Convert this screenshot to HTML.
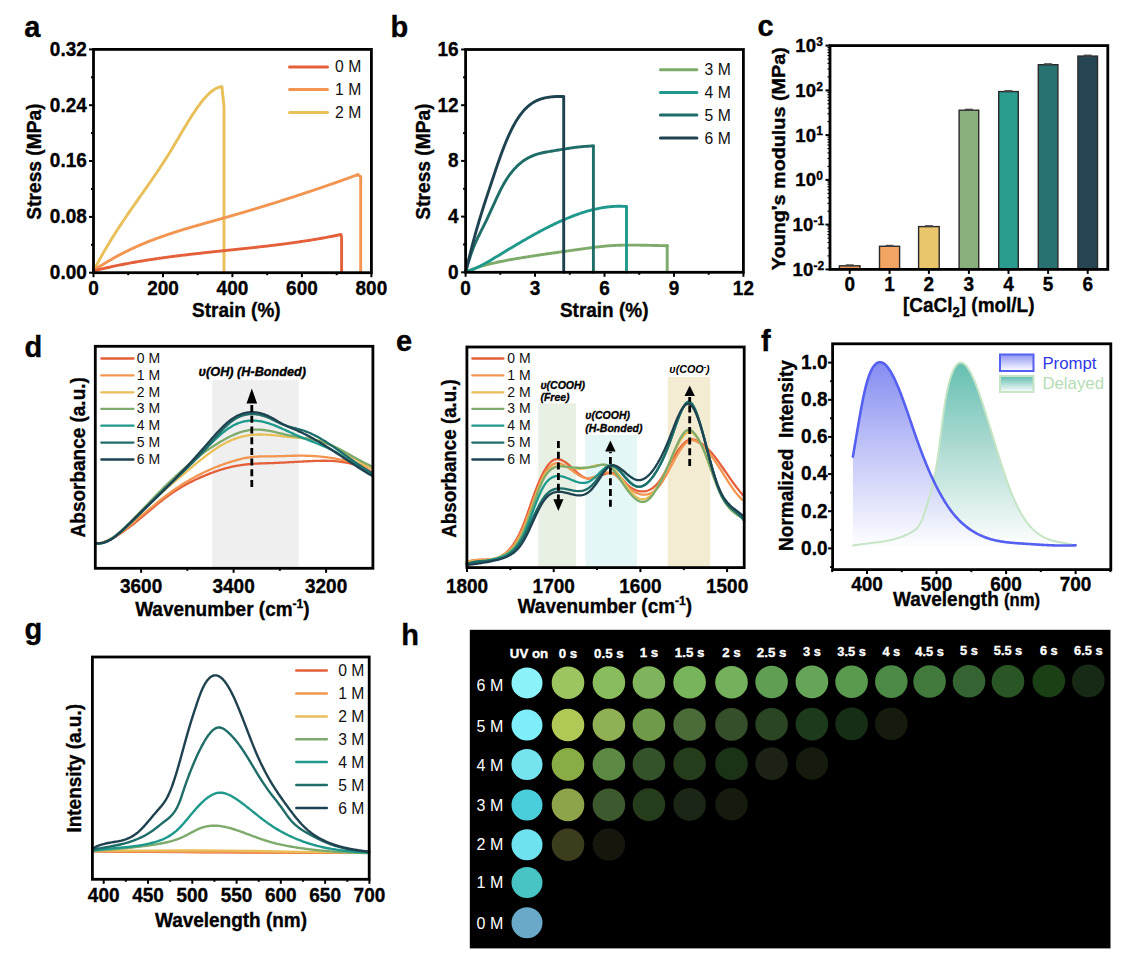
<!DOCTYPE html><html><head><meta charset="utf-8"><style>html,body{margin:0;padding:0;background:#fff;}svg{display:block;}text{font-family:"Liberation Sans",sans-serif;}</style></head><body>
<svg width="1136" height="959" viewBox="0 0 1136 959">
<rect width="1136" height="959" fill="#fff"/>
<defs>
<linearGradient id="gp" x1="0" y1="0" x2="0" y2="1"><stop offset="0" stop-color="#6f78ef"/><stop offset="0.45" stop-color="#b4b8f5"/><stop offset="1" stop-color="#ffffff"/></linearGradient>
<linearGradient id="gd" x1="0" y1="0" x2="0" y2="1"><stop offset="0" stop-color="#5dbcae"/><stop offset="0.45" stop-color="#a8d8cf"/><stop offset="1" stop-color="#ffffff"/></linearGradient>
<linearGradient id="gpl" x1="0" y1="0" x2="0" y2="1"><stop offset="0" stop-color="#8f95f3"/><stop offset="1" stop-color="#ffffff"/></linearGradient>
<linearGradient id="gdl" x1="0" y1="0" x2="0" y2="1"><stop offset="0" stop-color="#5dbcae"/><stop offset="1" stop-color="#ffffff"/></linearGradient>
</defs>
<text transform="translate(24.20,36.50) scale(1,1)" font-size="29" font-weight="bold" font-style="normal" text-anchor="start" fill="#000" stroke="#000" stroke-width="0.35" >a</text>
<line x1="93.5" y1="272.7" x2="93.5" y2="277.2" stroke="#000" stroke-width="2"/>
<line x1="163.0" y1="272.7" x2="163.0" y2="277.2" stroke="#000" stroke-width="2"/>
<line x1="232.4" y1="272.7" x2="232.4" y2="277.2" stroke="#000" stroke-width="2"/>
<line x1="301.9" y1="272.7" x2="301.9" y2="277.2" stroke="#000" stroke-width="2"/>
<line x1="371.4" y1="272.7" x2="371.4" y2="277.2" stroke="#000" stroke-width="2"/>
<line x1="128.2" y1="272.7" x2="128.2" y2="275.2" stroke="#000" stroke-width="2"/>
<line x1="197.7" y1="272.7" x2="197.7" y2="275.2" stroke="#000" stroke-width="2"/>
<line x1="267.2" y1="272.7" x2="267.2" y2="275.2" stroke="#000" stroke-width="2"/>
<line x1="336.7" y1="272.7" x2="336.7" y2="275.2" stroke="#000" stroke-width="2"/>
<line x1="93.5" y1="272.7" x2="89.0" y2="272.7" stroke="#000" stroke-width="2"/>
<line x1="93.5" y1="216.9" x2="89.0" y2="216.9" stroke="#000" stroke-width="2"/>
<line x1="93.5" y1="161.0" x2="89.0" y2="161.0" stroke="#000" stroke-width="2"/>
<line x1="93.5" y1="105.2" x2="89.0" y2="105.2" stroke="#000" stroke-width="2"/>
<line x1="93.5" y1="49.4" x2="89.0" y2="49.4" stroke="#000" stroke-width="2"/>
<line x1="93.5" y1="244.8" x2="91.0" y2="244.8" stroke="#000" stroke-width="2"/>
<line x1="93.5" y1="189.0" x2="91.0" y2="189.0" stroke="#000" stroke-width="2"/>
<line x1="93.5" y1="133.1" x2="91.0" y2="133.1" stroke="#000" stroke-width="2"/>
<line x1="93.5" y1="77.3" x2="91.0" y2="77.3" stroke="#000" stroke-width="2"/>
<text transform="translate(86.80,279.00) scale(0.935,1)" font-size="20.3" font-weight="bold" font-style="normal" text-anchor="end" fill="#000" stroke="#000" stroke-width="0.35" >0.00</text>
<text transform="translate(86.80,223.18) scale(0.935,1)" font-size="20.3" font-weight="bold" font-style="normal" text-anchor="end" fill="#000" stroke="#000" stroke-width="0.35" >0.08</text>
<text transform="translate(86.80,167.35) scale(0.935,1)" font-size="20.3" font-weight="bold" font-style="normal" text-anchor="end" fill="#000" stroke="#000" stroke-width="0.35" >0.16</text>
<text transform="translate(86.80,111.53) scale(0.935,1)" font-size="20.3" font-weight="bold" font-style="normal" text-anchor="end" fill="#000" stroke="#000" stroke-width="0.35" >0.24</text>
<text transform="translate(86.80,55.70) scale(0.935,1)" font-size="20.3" font-weight="bold" font-style="normal" text-anchor="end" fill="#000" stroke="#000" stroke-width="0.35" >0.32</text>
<text transform="translate(93.50,295.20) scale(0.935,1)" font-size="20.3" font-weight="bold" font-style="normal" text-anchor="middle" fill="#000" stroke="#000" stroke-width="0.35" >0</text>
<text transform="translate(162.97,295.20) scale(0.935,1)" font-size="20.3" font-weight="bold" font-style="normal" text-anchor="middle" fill="#000" stroke="#000" stroke-width="0.35" >200</text>
<text transform="translate(232.45,295.20) scale(0.935,1)" font-size="20.3" font-weight="bold" font-style="normal" text-anchor="middle" fill="#000" stroke="#000" stroke-width="0.35" >400</text>
<text transform="translate(301.93,295.20) scale(0.935,1)" font-size="20.3" font-weight="bold" font-style="normal" text-anchor="middle" fill="#000" stroke="#000" stroke-width="0.35" >600</text>
<text transform="translate(371.40,295.20) scale(0.935,1)" font-size="20.3" font-weight="bold" font-style="normal" text-anchor="middle" fill="#000" stroke="#000" stroke-width="0.35" >800</text>
<text transform="translate(236.30,317.40) scale(0.935,1)" font-size="20.3" font-weight="bold" font-style="normal" text-anchor="middle" fill="#000" stroke="#000" stroke-width="0.35" >Strain (%)</text>
<text transform="translate(41.2,161.6) rotate(-90) scale(0.945,1)" x="0" y="0" font-size="20.3" font-weight="bold" text-anchor="middle" fill="#000" stroke="#000" stroke-width="0.35" xml:space="preserve">Stress (MPa)</text>
<path d="M93.7,270.53 L94.9,268.23 L96.1,265.95 L97.3,263.71 L98.5,261.49 L99.7,259.30 L100.9,257.14 L102.1,255.01 L103.3,252.90 L104.5,250.82 L105.7,248.76 L106.9,246.73 L108.1,244.71 L109.3,242.72 L110.5,240.75 L111.7,238.80 L112.9,236.87 L114.1,234.96 L115.3,233.07 L116.5,231.19 L117.7,229.33 L118.9,227.49 L120.1,225.66 L121.3,223.84 L122.5,222.04 L123.7,220.24 L124.9,218.46 L126.1,216.69 L127.3,214.93 L128.5,213.18 L129.7,211.44 L130.9,209.70 L132.1,207.97 L133.3,206.25 L134.5,204.53 L135.7,202.82 L136.9,201.10 L138.1,199.39 L139.3,197.69 L140.5,195.98 L141.7,194.27 L142.9,192.57 L144.1,190.86 L145.3,189.15 L146.5,187.43 L147.7,185.71 L148.9,183.99 L150.1,182.26 L151.3,180.52 L152.5,178.78 L153.7,177.03 L154.9,175.27 L156.1,173.50 L157.3,171.72 L158.5,169.93 L159.7,168.12 L160.9,166.31 L162.1,164.48 L163.3,162.63 L164.5,160.77 L165.7,158.89 L166.9,157.00 L168.1,155.09 L169.3,153.16 L170.5,151.21 L171.7,149.24 L172.9,147.25 L174.1,145.25 L175.3,143.23 L176.5,141.21 L177.7,139.18 L178.9,137.14 L180.1,135.11 L181.3,133.07 L182.5,131.04 L183.7,129.02 L184.9,127.01 L186.1,125.02 L187.3,123.04 L188.5,121.08 L189.7,119.15 L190.9,117.24 L192.1,115.36 L193.3,113.51 L194.5,111.70 L195.7,109.92 L196.9,108.19 L198.1,106.49 L199.3,104.85 L200.5,103.26 L201.7,101.71 L202.9,100.23 L204.1,98.80 L205.3,97.44 L206.5,96.13 L207.7,94.90 L208.9,93.74 L210.1,92.65 L211.3,91.63 L212.5,90.70 L213.7,89.85 L214.9,89.09 L216.1,88.42 L217.3,87.85 L218.5,87.39 L219.7,87.04 L220.9,86.82 L222.0,86.72" fill="none" stroke="#e8bf58" stroke-width="2.9" stroke-linejoin="round" stroke-linecap="round"/>
<path d="M222.0,87.7 L224.0,106.5 L224.0,272.5" fill="none" stroke="#e8bf58" stroke-width="2.9" stroke-linejoin="round" stroke-linecap="round"/>
<path d="M93.7,270.48 L94.9,269.66 L96.1,268.86 L97.3,268.06 L98.5,267.27 L99.7,266.49 L100.9,265.72 L102.1,264.96 L103.3,264.21 L104.5,263.47 L105.7,262.74 L106.9,262.01 L108.1,261.29 L109.3,260.59 L110.5,259.89 L111.7,259.20 L112.9,258.52 L114.1,257.84 L115.3,257.18 L116.5,256.52 L117.7,255.87 L118.9,255.23 L120.1,254.60 L121.3,253.97 L122.5,253.35 L123.7,252.74 L124.9,252.14 L126.1,251.54 L127.3,250.95 L128.5,250.37 L129.7,249.79 L130.9,249.22 L132.1,248.66 L133.3,248.11 L134.5,247.56 L135.7,247.01 L136.9,246.48 L138.1,245.95 L139.3,245.42 L140.5,244.91 L141.7,244.40 L142.9,243.89 L144.1,243.39 L145.3,242.90 L146.5,242.41 L147.7,241.92 L148.9,241.45 L150.1,240.97 L151.3,240.51 L152.5,240.04 L153.7,239.59 L154.9,239.13 L156.1,238.68 L157.3,238.24 L158.5,237.80 L159.7,237.37 L160.9,236.94 L162.1,236.51 L163.3,236.09 L164.5,235.67 L165.7,235.26 L166.9,234.85 L168.1,234.45 L169.3,234.04 L170.5,233.64 L171.7,233.25 L172.9,232.86 L174.1,232.47 L175.3,232.08 L176.5,231.70 L177.7,231.32 L178.9,230.95 L180.1,230.57 L181.3,230.20 L182.5,229.83 L183.7,229.47 L184.9,229.11 L186.1,228.74 L187.3,228.39 L188.5,228.03 L189.7,227.67 L190.9,227.32 L192.1,226.97 L193.3,226.62 L194.5,226.27 L195.7,225.93 L196.9,225.58 L198.1,225.24 L199.3,224.89 L200.5,224.55 L201.7,224.21 L202.9,223.87 L204.1,223.53 L205.3,223.20 L206.5,222.86 L207.7,222.52 L208.9,222.18 L210.1,221.85 L211.3,221.51 L212.5,221.18 L213.7,220.84 L214.9,220.50 L216.1,220.17 L217.3,219.83 L218.5,219.49 L219.7,219.16 L220.9,218.82 L222.1,218.48 L223.3,218.14 L224.5,217.80 L225.7,217.46 L226.9,217.12 L228.1,216.77 L229.3,216.43 L230.5,216.09 L231.7,215.74 L232.9,215.39 L234.1,215.05 L235.3,214.70 L236.5,214.35 L237.7,214.00 L238.9,213.65 L240.1,213.30 L241.3,212.95 L242.5,212.60 L243.7,212.24 L244.9,211.89 L246.1,211.54 L247.3,211.18 L248.5,210.82 L249.7,210.47 L250.9,210.11 L252.1,209.75 L253.3,209.39 L254.5,209.03 L255.7,208.67 L256.9,208.30 L258.1,207.94 L259.3,207.58 L260.5,207.21 L261.7,206.85 L262.9,206.48 L264.1,206.11 L265.3,205.74 L266.5,205.37 L267.7,205.00 L268.9,204.63 L270.1,204.26 L271.3,203.89 L272.5,203.52 L273.7,203.14 L274.9,202.77 L276.1,202.39 L277.3,202.01 L278.5,201.64 L279.7,201.26 L280.9,200.88 L282.1,200.50 L283.3,200.12 L284.5,199.74 L285.7,199.35 L286.9,198.97 L288.1,198.58 L289.3,198.20 L290.5,197.81 L291.7,197.42 L292.9,197.04 L294.1,196.65 L295.3,196.26 L296.5,195.87 L297.7,195.47 L298.9,195.08 L300.1,194.69 L301.3,194.29 L302.5,193.90 L303.7,193.50 L304.9,193.10 L306.1,192.71 L307.3,192.31 L308.5,191.91 L309.7,191.51 L310.9,191.10 L312.1,190.70 L313.3,190.30 L314.5,189.89 L315.7,189.49 L316.9,189.08 L318.1,188.67 L319.3,188.27 L320.5,187.86 L321.7,187.45 L322.9,187.04 L324.1,186.62 L325.3,186.21 L326.5,185.80 L327.7,185.38 L328.9,184.97 L330.1,184.55 L331.3,184.13 L332.5,183.71 L333.7,183.29 L334.9,182.87 L336.1,182.45 L337.3,182.03 L338.5,181.61 L339.7,181.18 L340.9,180.76 L342.1,180.33 L343.3,179.90 L344.5,179.47 L345.7,179.05 L346.9,178.62 L348.1,178.18 L349.3,177.75 L350.5,177.32 L351.7,176.89 L352.9,176.45 L354.1,176.01 L355.3,175.58 L356.5,175.14 L357.7,174.70 L358.1,174.55" fill="none" stroke="#f29550" stroke-width="2.9" stroke-linejoin="round" stroke-linecap="round"/>
<path d="M358.1,175.2 L360.7,176.5 L360.7,272.5" fill="none" stroke="#f29550" stroke-width="2.9" stroke-linejoin="round" stroke-linecap="round"/>
<path d="M93.7,270.91 L94.9,270.61 L96.1,270.31 L97.3,270.01 L98.5,269.72 L99.7,269.43 L100.9,269.14 L102.1,268.86 L103.3,268.58 L104.5,268.30 L105.7,268.03 L106.9,267.75 L108.1,267.49 L109.3,267.22 L110.5,266.96 L111.7,266.70 L112.9,266.44 L114.1,266.18 L115.3,265.93 L116.5,265.68 L117.7,265.44 L118.9,265.19 L120.1,264.95 L121.3,264.71 L122.5,264.47 L123.7,264.24 L124.9,264.01 L126.1,263.78 L127.3,263.55 L128.5,263.33 L129.7,263.11 L130.9,262.89 L132.1,262.67 L133.3,262.46 L134.5,262.24 L135.7,262.03 L136.9,261.83 L138.1,261.62 L139.3,261.42 L140.5,261.21 L141.7,261.01 L142.9,260.82 L144.1,260.62 L145.3,260.43 L146.5,260.24 L147.7,260.05 L148.9,259.86 L150.1,259.67 L151.3,259.49 L152.5,259.31 L153.7,259.13 L154.9,258.95 L156.1,258.77 L157.3,258.60 L158.5,258.42 L159.7,258.25 L160.9,258.08 L162.1,257.91 L163.3,257.74 L164.5,257.58 L165.7,257.41 L166.9,257.25 L168.1,257.09 L169.3,256.93 L170.5,256.77 L171.7,256.62 L172.9,256.46 L174.1,256.31 L175.3,256.15 L176.5,256.00 L177.7,255.85 L178.9,255.70 L180.1,255.55 L181.3,255.41 L182.5,255.26 L183.7,255.12 L184.9,254.97 L186.1,254.83 L187.3,254.69 L188.5,254.55 L189.7,254.41 L190.9,254.27 L192.1,254.13 L193.3,253.99 L194.5,253.86 L195.7,253.72 L196.9,253.59 L198.1,253.45 L199.3,253.32 L200.5,253.19 L201.7,253.06 L202.9,252.92 L204.1,252.79 L205.3,252.66 L206.5,252.53 L207.7,252.40 L208.9,252.28 L210.1,252.15 L211.3,252.02 L212.5,251.89 L213.7,251.77 L214.9,251.64 L216.1,251.51 L217.3,251.39 L218.5,251.26 L219.7,251.14 L220.9,251.01 L222.1,250.88 L223.3,250.76 L224.5,250.63 L225.7,250.51 L226.9,250.38 L228.1,250.26 L229.3,250.13 L230.5,250.01 L231.7,249.89 L232.9,249.76 L234.1,249.63 L235.3,249.51 L236.5,249.38 L237.7,249.26 L238.9,249.13 L240.1,249.01 L241.3,248.88 L242.5,248.75 L243.7,248.63 L244.9,248.50 L246.1,248.37 L247.3,248.24 L248.5,248.11 L249.7,247.98 L250.9,247.85 L252.1,247.72 L253.3,247.59 L254.5,247.46 L255.7,247.33 L256.9,247.20 L258.1,247.06 L259.3,246.93 L260.5,246.79 L261.7,246.66 L262.9,246.52 L264.1,246.38 L265.3,246.24 L266.5,246.11 L267.7,245.97 L268.9,245.82 L270.1,245.68 L271.3,245.54 L272.5,245.39 L273.7,245.25 L274.9,245.10 L276.1,244.96 L277.3,244.81 L278.5,244.66 L279.7,244.51 L280.9,244.35 L282.1,244.20 L283.3,244.05 L284.5,243.89 L285.7,243.73 L286.9,243.57 L288.1,243.41 L289.3,243.25 L290.5,243.09 L291.7,242.92 L292.9,242.76 L294.1,242.59 L295.3,242.42 L296.5,242.25 L297.7,242.08 L298.9,241.90 L300.1,241.73 L301.3,241.55 L302.5,241.37 L303.7,241.19 L304.9,241.01 L306.1,240.82 L307.3,240.64 L308.5,240.45 L309.7,240.26 L310.9,240.06 L312.1,239.87 L313.3,239.67 L314.5,239.48 L315.7,239.28 L316.9,239.07 L318.1,238.87 L319.3,238.66 L320.5,238.45 L321.7,238.24 L322.9,238.03 L324.1,237.81 L325.3,237.59 L326.5,237.37 L327.7,237.15 L328.9,236.93 L330.1,236.70 L331.3,236.47 L332.5,236.24 L333.7,236.00 L334.9,235.76 L336.1,235.52 L337.3,235.28 L338.5,235.04 L339.7,234.79 L340.9,234.54" fill="none" stroke="#e3603a" stroke-width="2.9" stroke-linejoin="round" stroke-linecap="round"/>
<path d="M340.9,235.3 L341.6,236.6 L341.6,272.5" fill="none" stroke="#e3603a" stroke-width="2.9" stroke-linejoin="round" stroke-linecap="round"/>
<line x1="289.5" y1="66.9" x2="327.5" y2="66.9" stroke="#e3603a" stroke-width="3" stroke-linecap="round"/>
<text transform="translate(335.10,72.40) scale(1.0,1)" font-size="15.7" font-weight="normal" font-style="normal" text-anchor="start" fill="#111" >0 M</text>
<line x1="289.5" y1="89.6" x2="327.5" y2="89.6" stroke="#f29550" stroke-width="3" stroke-linecap="round"/>
<text transform="translate(335.10,95.10) scale(1.0,1)" font-size="15.7" font-weight="normal" font-style="normal" text-anchor="start" fill="#111" >1 M</text>
<line x1="289.5" y1="112.6" x2="327.5" y2="112.6" stroke="#e8bf58" stroke-width="3" stroke-linecap="round"/>
<text transform="translate(335.10,118.10) scale(1.0,1)" font-size="15.7" font-weight="normal" font-style="normal" text-anchor="start" fill="#111" >2 M</text>
<rect x="93.5" y="49.4" width="277.9" height="223.29999999999998" fill="none" stroke="#000" stroke-width="2.8"/>
<text transform="translate(390.50,36.80) scale(1,1)" font-size="29" font-weight="bold" font-style="normal" text-anchor="start" fill="#000" stroke="#000" stroke-width="0.35" >b</text>
<line x1="465.6" y1="272.3" x2="465.6" y2="276.8" stroke="#000" stroke-width="2"/>
<line x1="535.0" y1="272.3" x2="535.0" y2="276.8" stroke="#000" stroke-width="2"/>
<line x1="604.5" y1="272.3" x2="604.5" y2="276.8" stroke="#000" stroke-width="2"/>
<line x1="674.0" y1="272.3" x2="674.0" y2="276.8" stroke="#000" stroke-width="2"/>
<line x1="743.4" y1="272.3" x2="743.4" y2="276.8" stroke="#000" stroke-width="2"/>
<line x1="500.3" y1="272.3" x2="500.3" y2="274.8" stroke="#000" stroke-width="2"/>
<line x1="569.8" y1="272.3" x2="569.8" y2="274.8" stroke="#000" stroke-width="2"/>
<line x1="639.2" y1="272.3" x2="639.2" y2="274.8" stroke="#000" stroke-width="2"/>
<line x1="708.7" y1="272.3" x2="708.7" y2="274.8" stroke="#000" stroke-width="2"/>
<line x1="465.6" y1="272.3" x2="461.1" y2="272.3" stroke="#000" stroke-width="2"/>
<line x1="465.6" y1="216.6" x2="461.1" y2="216.6" stroke="#000" stroke-width="2"/>
<line x1="465.6" y1="160.9" x2="461.1" y2="160.9" stroke="#000" stroke-width="2"/>
<line x1="465.6" y1="105.2" x2="461.1" y2="105.2" stroke="#000" stroke-width="2"/>
<line x1="465.6" y1="49.5" x2="461.1" y2="49.5" stroke="#000" stroke-width="2"/>
<line x1="465.6" y1="244.5" x2="463.1" y2="244.5" stroke="#000" stroke-width="2"/>
<line x1="465.6" y1="188.8" x2="463.1" y2="188.8" stroke="#000" stroke-width="2"/>
<line x1="465.6" y1="133.1" x2="463.1" y2="133.1" stroke="#000" stroke-width="2"/>
<line x1="465.6" y1="77.3" x2="463.1" y2="77.3" stroke="#000" stroke-width="2"/>
<text transform="translate(458.50,278.60) scale(0.935,1)" font-size="20.3" font-weight="bold" font-style="normal" text-anchor="end" fill="#000" stroke="#000" stroke-width="0.35" >0</text>
<text transform="translate(458.50,222.90) scale(0.935,1)" font-size="20.3" font-weight="bold" font-style="normal" text-anchor="end" fill="#000" stroke="#000" stroke-width="0.35" >4</text>
<text transform="translate(458.50,167.20) scale(0.935,1)" font-size="20.3" font-weight="bold" font-style="normal" text-anchor="end" fill="#000" stroke="#000" stroke-width="0.35" >8</text>
<text transform="translate(458.50,111.50) scale(0.935,1)" font-size="20.3" font-weight="bold" font-style="normal" text-anchor="end" fill="#000" stroke="#000" stroke-width="0.35" >12</text>
<text transform="translate(458.50,55.80) scale(0.935,1)" font-size="20.3" font-weight="bold" font-style="normal" text-anchor="end" fill="#000" stroke="#000" stroke-width="0.35" >16</text>
<text transform="translate(465.60,295.20) scale(0.935,1)" font-size="20.3" font-weight="bold" font-style="normal" text-anchor="middle" fill="#000" stroke="#000" stroke-width="0.35" >0</text>
<text transform="translate(535.05,295.20) scale(0.935,1)" font-size="20.3" font-weight="bold" font-style="normal" text-anchor="middle" fill="#000" stroke="#000" stroke-width="0.35" >3</text>
<text transform="translate(604.50,295.20) scale(0.935,1)" font-size="20.3" font-weight="bold" font-style="normal" text-anchor="middle" fill="#000" stroke="#000" stroke-width="0.35" >6</text>
<text transform="translate(673.95,295.20) scale(0.935,1)" font-size="20.3" font-weight="bold" font-style="normal" text-anchor="middle" fill="#000" stroke="#000" stroke-width="0.35" >9</text>
<text transform="translate(743.40,295.20) scale(0.935,1)" font-size="20.3" font-weight="bold" font-style="normal" text-anchor="middle" fill="#000" stroke="#000" stroke-width="0.35" >12</text>
<text transform="translate(604.20,317.40) scale(0.935,1)" font-size="20.3" font-weight="bold" font-style="normal" text-anchor="middle" fill="#000" stroke="#000" stroke-width="0.35" >Strain (%)</text>
<text transform="translate(430.0,161.6) rotate(-90) scale(0.945,1)" x="0" y="0" font-size="20.3" font-weight="bold" text-anchor="middle" fill="#000" stroke="#000" stroke-width="0.35" xml:space="preserve">Stress (MPa)</text>
<path d="M465.9,271.79 L467.1,271.28 L468.3,270.79 L469.5,270.32 L470.7,269.85 L471.9,269.40 L473.1,268.96 L474.3,268.53 L475.5,268.12 L476.7,267.71 L477.9,267.32 L479.1,266.94 L480.3,266.57 L481.5,266.21 L482.7,265.85 L483.9,265.51 L485.1,265.18 L486.3,264.85 L487.5,264.54 L488.7,264.23 L489.9,263.93 L491.1,263.64 L492.3,263.36 L493.5,263.08 L494.7,262.81 L495.9,262.54 L497.1,262.28 L498.3,262.03 L499.5,261.78 L500.7,261.53 L501.9,261.30 L503.1,261.06 L504.3,260.83 L505.5,260.60 L506.7,260.38 L507.9,260.16 L509.1,259.94 L510.3,259.72 L511.5,259.51 L512.7,259.30 L513.9,259.09 L515.1,258.88 L516.3,258.67 L517.5,258.47 L518.7,258.26 L519.9,258.06 L521.1,257.86 L522.3,257.66 L523.5,257.47 L524.7,257.27 L525.9,257.08 L527.1,256.89 L528.3,256.70 L529.5,256.51 L530.7,256.32 L531.9,256.13 L533.1,255.95 L534.3,255.76 L535.5,255.58 L536.7,255.40 L537.9,255.22 L539.1,255.04 L540.3,254.86 L541.5,254.68 L542.7,254.51 L543.9,254.33 L545.1,254.15 L546.3,253.98 L547.5,253.81 L548.7,253.63 L549.9,253.46 L551.1,253.29 L552.3,253.12 L553.5,252.95 L554.7,252.78 L555.9,252.61 L557.1,252.44 L558.3,252.27 L559.5,252.10 L560.7,251.93 L561.9,251.76 L563.1,251.60 L564.3,251.43 L565.5,251.26 L566.7,251.09 L567.9,250.93 L569.1,250.76 L570.3,250.59 L571.5,250.42 L572.7,250.26 L573.9,250.09 L575.1,249.92 L576.3,249.75 L577.5,249.58 L578.7,249.42 L579.9,249.25 L581.1,249.08 L582.3,248.92 L583.5,248.75 L584.7,248.59 L585.9,248.42 L587.1,248.26 L588.3,248.10 L589.5,247.94 L590.7,247.78 L591.9,247.62 L593.1,247.47 L594.3,247.31 L595.5,247.16 L596.7,247.02 L597.9,246.87 L599.1,246.73 L600.3,246.60 L601.5,246.47 L602.7,246.34 L603.9,246.23 L605.1,246.11 L606.3,246.01 L607.5,245.91 L608.7,245.82 L609.9,245.73 L611.1,245.65 L612.3,245.58 L613.5,245.51 L614.7,245.45 L615.9,245.40 L617.1,245.35 L618.3,245.30 L619.5,245.26 L620.7,245.22 L621.9,245.19 L623.1,245.17 L624.3,245.15 L625.5,245.13 L626.7,245.11 L627.9,245.10 L629.1,245.10 L630.3,245.09 L631.5,245.09 L632.7,245.10 L633.9,245.10 L635.1,245.11 L636.3,245.12 L637.5,245.14 L638.7,245.15 L639.9,245.17 L641.1,245.19 L642.3,245.21 L643.5,245.23 L644.7,245.26 L645.9,245.28 L647.1,245.31 L648.3,245.34 L649.5,245.36 L650.7,245.39 L651.9,245.42 L653.1,245.45 L654.3,245.47 L655.5,245.50 L656.7,245.53 L657.9,245.55 L659.1,245.58 L660.3,245.60 L661.5,245.63 L662.7,245.65 L663.9,245.67 L665.1,245.69 L666.3,245.70 L667.2,245.71" fill="none" stroke="#7eaa6c" stroke-width="2.9" stroke-linejoin="round" stroke-linecap="round"/>
<path d="M667.2,245.7 L667.2,272.3" fill="none" stroke="#7eaa6c" stroke-width="2.9" stroke-linejoin="round" stroke-linecap="round"/>
<path d="M465.9,271.78 L467.1,271.43 L468.3,271.06 L469.5,270.65 L470.7,270.23 L471.9,269.77 L473.1,269.29 L474.3,268.79 L475.5,268.27 L476.7,267.72 L477.9,267.16 L479.1,266.58 L480.3,265.98 L481.5,265.36 L482.7,264.73 L483.9,264.08 L485.1,263.43 L486.3,262.76 L487.5,262.08 L488.7,261.39 L489.9,260.69 L491.1,259.99 L492.3,259.27 L493.5,258.56 L494.7,257.84 L495.9,257.11 L497.1,256.38 L498.3,255.65 L499.5,254.92 L500.7,254.19 L501.9,253.46 L503.1,252.73 L504.3,252.00 L505.5,251.27 L506.7,250.55 L507.9,249.82 L509.1,249.10 L510.3,248.38 L511.5,247.66 L512.7,246.94 L513.9,246.22 L515.1,245.51 L516.3,244.80 L517.5,244.09 L518.7,243.38 L519.9,242.68 L521.1,241.98 L522.3,241.28 L523.5,240.58 L524.7,239.89 L525.9,239.20 L527.1,238.51 L528.3,237.83 L529.5,237.15 L530.7,236.48 L531.9,235.80 L533.1,235.14 L534.3,234.47 L535.5,233.81 L536.7,233.16 L537.9,232.51 L539.1,231.86 L540.3,231.22 L541.5,230.58 L542.7,229.95 L543.9,229.32 L545.1,228.70 L546.3,228.08 L547.5,227.47 L548.7,226.87 L549.9,226.27 L551.1,225.67 L552.3,225.09 L553.5,224.50 L554.7,223.93 L555.9,223.36 L557.1,222.79 L558.3,222.24 L559.5,221.69 L560.7,221.14 L561.9,220.61 L563.1,220.08 L564.3,219.55 L565.5,219.04 L566.7,218.53 L567.9,218.03 L569.1,217.54 L570.3,217.06 L571.5,216.58 L572.7,216.11 L573.9,215.66 L575.1,215.21 L576.3,214.77 L577.5,214.33 L578.7,213.91 L579.9,213.50 L581.1,213.10 L582.3,212.70 L583.5,212.32 L584.7,211.95 L585.9,211.58 L587.1,211.23 L588.3,210.89 L589.5,210.56 L590.7,210.24 L591.9,209.93 L593.1,209.63 L594.3,209.34 L595.5,209.07 L596.7,208.80 L597.9,208.55 L599.1,208.31 L600.3,208.09 L601.5,207.87 L602.7,207.67 L603.9,207.48 L605.1,207.31 L606.3,207.14 L607.5,206.99 L608.7,206.86 L609.9,206.73 L611.1,206.62 L612.3,206.53 L613.5,206.45 L614.7,206.38 L615.9,206.33 L617.1,206.29 L618.3,206.27 L619.5,206.26 L620.7,206.27 L621.9,206.29 L623.1,206.33 L624.3,206.38 L625.5,206.45 L626.5,206.52" fill="none" stroke="#1f998b" stroke-width="2.9" stroke-linejoin="round" stroke-linecap="round"/>
<path d="M626.5,206.6 L626.5,272.3" fill="none" stroke="#1f998b" stroke-width="2.9" stroke-linejoin="round" stroke-linecap="round"/>
<path d="M465.9,271.20 L467.1,266.73 L468.3,262.57 L469.5,258.70 L470.7,255.08 L471.9,251.71 L473.1,248.54 L474.3,245.56 L475.5,242.74 L476.7,240.06 L477.9,237.48 L479.1,235.00 L480.3,232.58 L481.5,230.19 L482.7,227.82 L483.9,225.44 L485.1,223.02 L486.3,220.54 L487.5,218.01 L488.7,215.43 L489.9,212.82 L491.1,210.20 L492.3,207.56 L493.5,204.92 L494.7,202.29 L495.9,199.69 L497.1,197.12 L498.3,194.59 L499.5,192.12 L500.7,189.71 L501.9,187.38 L503.1,185.14 L504.3,183.00 L505.5,180.96 L506.7,179.03 L507.9,177.21 L509.1,175.48 L510.3,173.85 L511.5,172.30 L512.7,170.84 L513.9,169.45 L515.1,168.14 L516.3,166.90 L517.5,165.72 L518.7,164.61 L519.9,163.57 L521.1,162.59 L522.3,161.66 L523.5,160.80 L524.7,159.98 L525.9,159.22 L527.1,158.51 L528.3,157.85 L529.5,157.23 L530.7,156.66 L531.9,156.12 L533.1,155.62 L534.3,155.16 L535.5,154.74 L536.7,154.34 L537.9,153.98 L539.1,153.64 L540.3,153.32 L541.5,153.03 L542.7,152.76 L543.9,152.50 L545.1,152.26 L546.3,152.03 L547.5,151.82 L548.7,151.61 L549.9,151.41 L551.1,151.21 L552.3,151.01 L553.5,150.82 L554.7,150.62 L555.9,150.42 L557.1,150.22 L558.3,150.02 L559.5,149.82 L560.7,149.62 L561.9,149.42 L563.1,149.22 L564.3,149.03 L565.5,148.84 L566.7,148.65 L567.9,148.46 L569.1,148.28 L570.3,148.10 L571.5,147.92 L572.7,147.75 L573.9,147.59 L575.1,147.43 L576.3,147.28 L577.5,147.13 L578.7,146.99 L579.9,146.86 L581.1,146.74 L582.3,146.62 L583.5,146.51 L584.7,146.41 L585.9,146.33 L587.1,146.25 L588.3,146.18 L589.5,146.12 L590.7,146.07 L591.9,146.03 L593.1,146.01 L593.4,146.00" fill="none" stroke="#1f6d68" stroke-width="2.9" stroke-linejoin="round" stroke-linecap="round"/>
<path d="M593.4,146.0 L593.4,272.3" fill="none" stroke="#1f6d68" stroke-width="2.9" stroke-linejoin="round" stroke-linecap="round"/>
<path d="M465.9,271.42 L467.1,266.24 L468.3,261.19 L469.5,256.27 L470.7,251.48 L471.9,246.80 L473.1,242.24 L474.3,237.79 L475.5,233.45 L476.7,229.20 L477.9,225.05 L479.1,220.99 L480.3,217.01 L481.5,213.11 L482.7,209.29 L483.9,205.53 L485.1,201.82 L486.3,198.15 L487.5,194.51 L488.7,190.90 L489.9,187.29 L491.1,183.69 L492.3,180.08 L493.5,176.48 L494.7,172.89 L495.9,169.33 L497.1,165.81 L498.3,162.33 L499.5,158.92 L500.7,155.57 L501.9,152.31 L503.1,149.13 L504.3,146.03 L505.5,143.04 L506.7,140.14 L507.9,137.34 L509.1,134.65 L510.3,132.07 L511.5,129.60 L512.7,127.25 L513.9,125.01 L515.1,122.87 L516.3,120.85 L517.5,118.93 L518.7,117.12 L519.9,115.41 L521.1,113.81 L522.3,112.30 L523.5,110.89 L524.7,109.56 L525.9,108.33 L527.1,107.19 L528.3,106.12 L529.5,105.13 L530.7,104.22 L531.9,103.38 L533.1,102.61 L534.3,101.90 L535.5,101.26 L536.7,100.67 L537.9,100.14 L539.1,99.65 L540.3,99.22 L541.5,98.83 L542.7,98.48 L543.9,98.17 L545.1,97.90 L546.3,97.66 L547.5,97.44 L548.7,97.25 L549.9,97.08 L551.1,96.93 L552.3,96.80 L553.5,96.69 L554.7,96.60 L555.9,96.53 L557.1,96.49 L558.3,96.46 L559.5,96.46 L560.7,96.47 L561.9,96.51 L563.1,96.57 L563.7,96.60" fill="none" stroke="#1f4250" stroke-width="2.9" stroke-linejoin="round" stroke-linecap="round"/>
<path d="M563.7,96.6 L563.7,272.3" fill="none" stroke="#1f4250" stroke-width="2.9" stroke-linejoin="round" stroke-linecap="round"/>
<line x1="660.4" y1="69.8" x2="696.9" y2="69.8" stroke="#7eaa6c" stroke-width="3" stroke-linecap="round"/>
<text transform="translate(704.60,75.30) scale(1.0,1)" font-size="15.7" font-weight="normal" font-style="normal" text-anchor="start" fill="#111" >3 M</text>
<line x1="660.4" y1="92.5" x2="696.9" y2="92.5" stroke="#1f998b" stroke-width="3" stroke-linecap="round"/>
<text transform="translate(704.60,98.00) scale(1.0,1)" font-size="15.7" font-weight="normal" font-style="normal" text-anchor="start" fill="#111" >4 M</text>
<line x1="660.4" y1="115.0" x2="696.9" y2="115.0" stroke="#1f6d68" stroke-width="3" stroke-linecap="round"/>
<text transform="translate(704.60,120.50) scale(1.0,1)" font-size="15.7" font-weight="normal" font-style="normal" text-anchor="start" fill="#111" >5 M</text>
<line x1="660.4" y1="138.1" x2="696.9" y2="138.1" stroke="#1f4250" stroke-width="3" stroke-linecap="round"/>
<text transform="translate(704.60,143.60) scale(1.0,1)" font-size="15.7" font-weight="normal" font-style="normal" text-anchor="start" fill="#111" >6 M</text>
<rect x="465.6" y="49.5" width="277.79999999999995" height="222.8" fill="none" stroke="#000" stroke-width="2.8"/>
<text transform="translate(757.50,36.30) scale(1,1)" font-size="29" font-weight="bold" font-style="normal" text-anchor="start" fill="#000" stroke="#000" stroke-width="0.35" >c</text>
<rect x="839.4" y="265.8" width="20.600000000000023" height="3.599999999999966" fill="#ec9a5c" stroke="#2a2a2a" stroke-width="1.4"/>
<line x1="845.7" y1="265.3" x2="853.7" y2="265.3" stroke="#444" stroke-width="2"/>
<line x1="849.7" y1="269.4" x2="849.7" y2="273.9" stroke="#000" stroke-width="2"/>
<text transform="translate(849.70,291.20) scale(0.935,1)" font-size="20.3" font-weight="bold" font-style="normal" text-anchor="middle" fill="#000" stroke="#000" stroke-width="0.35" >0</text>
<rect x="879.5" y="246.3" width="20.100000000000023" height="23.099999999999966" fill="#f2a462" stroke="#2a2a2a" stroke-width="1.4"/>
<line x1="885.55" y1="245.8" x2="893.55" y2="245.8" stroke="#444" stroke-width="2"/>
<line x1="889.55" y1="269.4" x2="889.55" y2="273.9" stroke="#000" stroke-width="2"/>
<text transform="translate(889.55,291.20) scale(0.935,1)" font-size="20.3" font-weight="bold" font-style="normal" text-anchor="middle" fill="#000" stroke="#000" stroke-width="0.35" >1</text>
<rect x="918.6" y="226.6" width="20.600000000000023" height="42.79999999999998" fill="#e9c56c" stroke="#2a2a2a" stroke-width="1.4"/>
<line x1="924.9000000000001" y1="226.1" x2="932.9000000000001" y2="226.1" stroke="#444" stroke-width="2"/>
<line x1="928.9000000000001" y1="269.4" x2="928.9000000000001" y2="273.9" stroke="#000" stroke-width="2"/>
<text transform="translate(928.90,291.20) scale(0.935,1)" font-size="20.3" font-weight="bold" font-style="normal" text-anchor="middle" fill="#000" stroke="#000" stroke-width="0.35" >2</text>
<rect x="959.1" y="110.2" width="19.600000000000023" height="159.2" fill="#8ab17d" stroke="#2a2a2a" stroke-width="1.4"/>
<line x1="964.9000000000001" y1="109.7" x2="972.9000000000001" y2="109.7" stroke="#444" stroke-width="2"/>
<line x1="968.9000000000001" y1="269.4" x2="968.9000000000001" y2="273.9" stroke="#000" stroke-width="2"/>
<text transform="translate(968.90,291.20) scale(0.935,1)" font-size="20.3" font-weight="bold" font-style="normal" text-anchor="middle" fill="#000" stroke="#000" stroke-width="0.35" >3</text>
<rect x="998.7" y="91.6" width="19.59999999999991" height="177.79999999999998" fill="#2a9d8f" stroke="#2a2a2a" stroke-width="1.4"/>
<line x1="1004.5" y1="91.1" x2="1012.5" y2="91.1" stroke="#444" stroke-width="2"/>
<line x1="1008.5" y1="269.4" x2="1008.5" y2="273.9" stroke="#000" stroke-width="2"/>
<text transform="translate(1008.50,291.20) scale(0.935,1)" font-size="20.3" font-weight="bold" font-style="normal" text-anchor="middle" fill="#000" stroke="#000" stroke-width="0.35" >4</text>
<rect x="1038.3" y="64.7" width="19.600000000000136" height="204.7" fill="#287271" stroke="#2a2a2a" stroke-width="1.4"/>
<line x1="1044.1" y1="64.2" x2="1052.1" y2="64.2" stroke="#444" stroke-width="2"/>
<line x1="1048.1" y1="269.4" x2="1048.1" y2="273.9" stroke="#000" stroke-width="2"/>
<text transform="translate(1048.10,291.20) scale(0.935,1)" font-size="20.3" font-weight="bold" font-style="normal" text-anchor="middle" fill="#000" stroke="#000" stroke-width="0.35" >5</text>
<rect x="1077.9" y="56.1" width="19.59999999999991" height="213.29999999999998" fill="#264653" stroke="#2a2a2a" stroke-width="1.4"/>
<line x1="1083.7" y1="55.6" x2="1091.7" y2="55.6" stroke="#444" stroke-width="2"/>
<line x1="1087.7" y1="269.4" x2="1087.7" y2="273.9" stroke="#000" stroke-width="2"/>
<text transform="translate(1087.70,291.20) scale(0.935,1)" font-size="20.3" font-weight="bold" font-style="normal" text-anchor="middle" fill="#000" stroke="#000" stroke-width="0.35" >6</text>
<line x1="830" y1="269.4" x2="825.5" y2="269.4" stroke="#000" stroke-width="2"/>
<line x1="830" y1="224.6" x2="825.5" y2="224.6" stroke="#000" stroke-width="2"/>
<line x1="830" y1="179.9" x2="825.5" y2="179.9" stroke="#000" stroke-width="2"/>
<line x1="830" y1="135.1" x2="825.5" y2="135.1" stroke="#000" stroke-width="2"/>
<line x1="830" y1="90.4" x2="825.5" y2="90.4" stroke="#000" stroke-width="2"/>
<line x1="830" y1="45.6" x2="825.5" y2="45.6" stroke="#000" stroke-width="2"/>
<line x1="830" y1="255.9" x2="827.5" y2="255.9" stroke="#000" stroke-width="1.2"/>
<line x1="830" y1="248.0" x2="827.5" y2="248.0" stroke="#000" stroke-width="1.2"/>
<line x1="830" y1="242.5" x2="827.5" y2="242.5" stroke="#000" stroke-width="1.2"/>
<line x1="830" y1="238.1" x2="827.5" y2="238.1" stroke="#000" stroke-width="1.2"/>
<line x1="830" y1="234.6" x2="827.5" y2="234.6" stroke="#000" stroke-width="1.2"/>
<line x1="830" y1="231.6" x2="827.5" y2="231.6" stroke="#000" stroke-width="1.2"/>
<line x1="830" y1="229.0" x2="827.5" y2="229.0" stroke="#000" stroke-width="1.2"/>
<line x1="830" y1="226.7" x2="827.5" y2="226.7" stroke="#000" stroke-width="1.2"/>
<line x1="830" y1="211.2" x2="827.5" y2="211.2" stroke="#000" stroke-width="1.2"/>
<line x1="830" y1="203.3" x2="827.5" y2="203.3" stroke="#000" stroke-width="1.2"/>
<line x1="830" y1="197.7" x2="827.5" y2="197.7" stroke="#000" stroke-width="1.2"/>
<line x1="830" y1="193.4" x2="827.5" y2="193.4" stroke="#000" stroke-width="1.2"/>
<line x1="830" y1="189.8" x2="827.5" y2="189.8" stroke="#000" stroke-width="1.2"/>
<line x1="830" y1="186.8" x2="827.5" y2="186.8" stroke="#000" stroke-width="1.2"/>
<line x1="830" y1="184.2" x2="827.5" y2="184.2" stroke="#000" stroke-width="1.2"/>
<line x1="830" y1="181.9" x2="827.5" y2="181.9" stroke="#000" stroke-width="1.2"/>
<line x1="830" y1="166.4" x2="827.5" y2="166.4" stroke="#000" stroke-width="1.2"/>
<line x1="830" y1="158.5" x2="827.5" y2="158.5" stroke="#000" stroke-width="1.2"/>
<line x1="830" y1="152.9" x2="827.5" y2="152.9" stroke="#000" stroke-width="1.2"/>
<line x1="830" y1="148.6" x2="827.5" y2="148.6" stroke="#000" stroke-width="1.2"/>
<line x1="830" y1="145.0" x2="827.5" y2="145.0" stroke="#000" stroke-width="1.2"/>
<line x1="830" y1="142.1" x2="827.5" y2="142.1" stroke="#000" stroke-width="1.2"/>
<line x1="830" y1="139.5" x2="827.5" y2="139.5" stroke="#000" stroke-width="1.2"/>
<line x1="830" y1="137.2" x2="827.5" y2="137.2" stroke="#000" stroke-width="1.2"/>
<line x1="830" y1="121.6" x2="827.5" y2="121.6" stroke="#000" stroke-width="1.2"/>
<line x1="830" y1="113.8" x2="827.5" y2="113.8" stroke="#000" stroke-width="1.2"/>
<line x1="830" y1="108.2" x2="827.5" y2="108.2" stroke="#000" stroke-width="1.2"/>
<line x1="830" y1="103.8" x2="827.5" y2="103.8" stroke="#000" stroke-width="1.2"/>
<line x1="830" y1="100.3" x2="827.5" y2="100.3" stroke="#000" stroke-width="1.2"/>
<line x1="830" y1="97.3" x2="827.5" y2="97.3" stroke="#000" stroke-width="1.2"/>
<line x1="830" y1="94.7" x2="827.5" y2="94.7" stroke="#000" stroke-width="1.2"/>
<line x1="830" y1="92.4" x2="827.5" y2="92.4" stroke="#000" stroke-width="1.2"/>
<line x1="830" y1="76.9" x2="827.5" y2="76.9" stroke="#000" stroke-width="1.2"/>
<line x1="830" y1="69.0" x2="827.5" y2="69.0" stroke="#000" stroke-width="1.2"/>
<line x1="830" y1="63.4" x2="827.5" y2="63.4" stroke="#000" stroke-width="1.2"/>
<line x1="830" y1="59.1" x2="827.5" y2="59.1" stroke="#000" stroke-width="1.2"/>
<line x1="830" y1="55.5" x2="827.5" y2="55.5" stroke="#000" stroke-width="1.2"/>
<line x1="830" y1="52.5" x2="827.5" y2="52.5" stroke="#000" stroke-width="1.2"/>
<line x1="830" y1="49.9" x2="827.5" y2="49.9" stroke="#000" stroke-width="1.2"/>
<line x1="830" y1="47.6" x2="827.5" y2="47.6" stroke="#000" stroke-width="1.2"/>
<text transform="translate(813.20,275.90) scale(1.03,1)" font-size="18" font-weight="bold" font-style="normal" text-anchor="end" fill="#000" stroke="#000" stroke-width="0.35" >10</text>
<text transform="translate(813.50,269.70) scale(1.0,1)" font-size="12" font-weight="bold" font-style="normal" text-anchor="start" fill="#000" stroke="#000" stroke-width="0.35" >-2</text>
<text transform="translate(813.20,231.14) scale(1.03,1)" font-size="18" font-weight="bold" font-style="normal" text-anchor="end" fill="#000" stroke="#000" stroke-width="0.35" >10</text>
<text transform="translate(813.50,224.94) scale(1.0,1)" font-size="12" font-weight="bold" font-style="normal" text-anchor="start" fill="#000" stroke="#000" stroke-width="0.35" >-1</text>
<text transform="translate(816.00,186.38) scale(1.03,1)" font-size="18" font-weight="bold" font-style="normal" text-anchor="end" fill="#000" stroke="#000" stroke-width="0.35" >10</text>
<text transform="translate(816.30,180.18) scale(1.0,1)" font-size="12" font-weight="bold" font-style="normal" text-anchor="start" fill="#000" stroke="#000" stroke-width="0.35" >0</text>
<text transform="translate(816.00,141.62) scale(1.03,1)" font-size="18" font-weight="bold" font-style="normal" text-anchor="end" fill="#000" stroke="#000" stroke-width="0.35" >10</text>
<text transform="translate(816.30,135.42) scale(1.0,1)" font-size="12" font-weight="bold" font-style="normal" text-anchor="start" fill="#000" stroke="#000" stroke-width="0.35" >1</text>
<text transform="translate(816.00,96.86) scale(1.03,1)" font-size="18" font-weight="bold" font-style="normal" text-anchor="end" fill="#000" stroke="#000" stroke-width="0.35" >10</text>
<text transform="translate(816.30,90.66) scale(1.0,1)" font-size="12" font-weight="bold" font-style="normal" text-anchor="start" fill="#000" stroke="#000" stroke-width="0.35" >2</text>
<text transform="translate(816.00,52.10) scale(1.03,1)" font-size="18" font-weight="bold" font-style="normal" text-anchor="end" fill="#000" stroke="#000" stroke-width="0.35" >10</text>
<text transform="translate(816.30,45.90) scale(1.0,1)" font-size="12" font-weight="bold" font-style="normal" text-anchor="start" fill="#000" stroke="#000" stroke-width="0.35" >3</text>
<text transform="translate(968.7,311.5) scale(0.935,1)" font-size="20.3" font-weight="bold" stroke="#000" stroke-width="0.35" text-anchor="middle">[CaCl<tspan dy="5" font-size="14">2</tspan><tspan dy="-5">] (mol/L)</tspan></text>
<text transform="translate(785.2,158.7) rotate(-90) scale(1.075,1)" x="0" y="0" font-size="18.4" font-weight="bold" text-anchor="middle" fill="#000" stroke="#000" stroke-width="0.35" xml:space="preserve">Young's modulus (MPa)</text>
<rect x="830" y="45.6" width="277.79999999999995" height="223.79999999999998" fill="none" stroke="#000" stroke-width="2.8"/>
<text transform="translate(24.50,357.00) scale(1,1)" font-size="29" font-weight="bold" font-style="normal" text-anchor="start" fill="#000" stroke="#000" stroke-width="0.35" >d</text>
<rect x="212.2" y="380" width="86.5" height="188.29999999999995" fill="#efefef"/>
<line x1="141.1" y1="568.3" x2="141.1" y2="572.8" stroke="#000" stroke-width="2"/>
<line x1="233.6" y1="568.3" x2="233.6" y2="572.8" stroke="#000" stroke-width="2"/>
<line x1="326.1" y1="568.3" x2="326.1" y2="572.8" stroke="#000" stroke-width="2"/>
<line x1="187.3" y1="568.3" x2="187.3" y2="570.8" stroke="#000" stroke-width="2"/>
<line x1="279.9" y1="568.3" x2="279.9" y2="570.8" stroke="#000" stroke-width="2"/>
<text transform="translate(141.10,592.60) scale(0.935,1)" font-size="20.3" font-weight="bold" font-style="normal" text-anchor="middle" fill="#000" stroke="#000" stroke-width="0.35" >3600</text>
<text transform="translate(233.60,592.60) scale(0.935,1)" font-size="20.3" font-weight="bold" font-style="normal" text-anchor="middle" fill="#000" stroke="#000" stroke-width="0.35" >3400</text>
<text transform="translate(326.10,592.60) scale(0.935,1)" font-size="20.3" font-weight="bold" font-style="normal" text-anchor="middle" fill="#000" stroke="#000" stroke-width="0.35" >3200</text>
<text transform="translate(222.4,616) scale(0.935,1)" font-size="20.3" font-weight="bold" stroke="#000" stroke-width="0.35" text-anchor="middle">Wavenumber (cm<tspan dy="-8" font-size="13">-1</tspan><tspan dy="8">)</tspan></text>
<text transform="translate(84.5,457.3) rotate(-90) scale(0.935,1)" x="0" y="0" font-size="20.3" font-weight="bold" text-anchor="middle" fill="#000" stroke="#000" stroke-width="0.35" xml:space="preserve">Absorbance (a.u.)</text>
<path d="M96.8,543.66 L98.0,543.44 L99.2,543.19 L100.4,542.90 L101.6,542.57 L102.8,542.21 L104.0,541.82 L105.2,541.39 L106.4,540.93 L107.6,540.44 L108.8,539.91 L110.0,539.36 L111.2,538.78 L112.4,538.17 L113.6,537.54 L114.8,536.88 L116.0,536.19 L117.2,535.48 L118.4,534.75 L119.6,534.00 L120.8,533.22 L122.0,532.43 L123.2,531.61 L124.4,530.78 L125.6,529.93 L126.8,529.06 L128.0,528.18 L129.2,527.28 L130.4,526.37 L131.6,525.44 L132.8,524.50 L134.0,523.56 L135.2,522.60 L136.4,521.63 L137.6,520.65 L138.8,519.67 L140.0,518.68 L141.2,517.69 L142.4,516.69 L143.6,515.68 L144.8,514.68 L146.0,513.67 L147.2,512.66 L148.4,511.65 L149.6,510.64 L150.8,509.64 L152.0,508.63 L153.2,507.63 L154.4,506.64 L155.6,505.65 L156.8,504.66 L158.0,503.69 L159.2,502.72 L160.4,501.76 L161.6,500.81 L162.8,499.87 L164.0,498.95 L165.2,498.03 L166.4,497.13 L167.6,496.25 L168.8,495.38 L170.0,494.53 L171.2,493.69 L172.4,492.87 L173.6,492.06 L174.8,491.27 L176.0,490.49 L177.2,489.73 L178.4,488.98 L179.6,488.24 L180.8,487.52 L182.0,486.81 L183.2,486.12 L184.4,485.43 L185.6,484.76 L186.8,484.11 L188.0,483.46 L189.2,482.83 L190.4,482.21 L191.6,481.60 L192.8,481.00 L194.0,480.41 L195.2,479.83 L196.4,479.26 L197.6,478.71 L198.8,478.16 L200.0,477.62 L201.2,477.10 L202.4,476.58 L203.6,476.07 L204.8,475.57 L206.0,475.07 L207.2,474.59 L208.4,474.11 L209.6,473.65 L210.8,473.19 L212.0,472.74 L213.2,472.30 L214.4,471.87 L215.6,471.45 L216.8,471.04 L218.0,470.64 L219.2,470.25 L220.4,469.87 L221.6,469.50 L222.8,469.14 L224.0,468.79 L225.2,468.45 L226.4,468.13 L227.6,467.81 L228.8,467.51 L230.0,467.22 L231.2,466.94 L232.4,466.67 L233.6,466.42 L234.8,466.18 L236.0,465.94 L237.2,465.73 L238.4,465.52 L239.6,465.32 L240.8,465.14 L242.0,464.97 L243.2,464.80 L244.4,464.65 L245.6,464.51 L246.8,464.37 L248.0,464.25 L249.2,464.14 L250.4,464.03 L251.6,463.94 L252.8,463.85 L254.0,463.77 L255.2,463.70 L256.4,463.64 L257.6,463.58 L258.8,463.52 L260.0,463.47 L261.2,463.43 L262.4,463.39 L263.6,463.35 L264.8,463.31 L266.0,463.27 L267.2,463.23 L268.4,463.20 L269.6,463.16 L270.8,463.12 L272.0,463.07 L273.2,463.03 L274.4,462.98 L275.6,462.93 L276.8,462.88 L278.0,462.82 L279.2,462.77 L280.4,462.71 L281.6,462.65 L282.8,462.59 L284.0,462.53 L285.2,462.46 L286.4,462.40 L287.6,462.34 L288.8,462.27 L290.0,462.20 L291.2,462.14 L292.4,462.07 L293.6,462.00 L294.8,461.94 L296.0,461.87 L297.2,461.80 L298.4,461.74 L299.6,461.67 L300.8,461.61 L302.0,461.54 L303.2,461.48 L304.4,461.41 L305.6,461.35 L306.8,461.29 L308.0,461.23 L309.2,461.17 L310.4,461.11 L311.6,461.06 L312.8,461.01 L314.0,460.96 L315.2,460.92 L316.4,460.88 L317.6,460.84 L318.8,460.81 L320.0,460.79 L321.2,460.77 L322.4,460.76 L323.6,460.75 L324.8,460.76 L326.0,460.77 L327.2,460.79 L328.4,460.82 L329.6,460.85 L330.8,460.90 L332.0,460.96 L333.2,461.03 L334.4,461.11 L335.6,461.21 L336.8,461.31 L338.0,461.43 L339.2,461.57 L340.4,461.71 L341.6,461.87 L342.8,462.05 L344.0,462.24 L345.2,462.44 L346.4,462.67 L347.6,462.91 L348.8,463.16 L350.0,463.44 L351.2,463.73 L352.4,464.04 L353.6,464.37 L354.8,464.72 L356.0,465.09 L357.2,465.48 L358.4,465.90 L359.6,466.33 L360.8,466.78 L362.0,467.26 L363.2,467.76 L364.4,468.29 L365.6,468.84 L366.8,469.41 L368.0,470.01 L369.2,470.63 L370.4,471.28 L371.6,471.96 L372.0,472.19" fill="none" stroke="#e3603a" stroke-width="2.3" stroke-linejoin="round" stroke-linecap="round"/>
<path d="M96.8,543.36 L98.0,543.33 L99.2,543.23 L100.4,543.07 L101.6,542.85 L102.8,542.57 L104.0,542.23 L105.2,541.84 L106.4,541.39 L107.6,540.90 L108.8,540.35 L110.0,539.77 L111.2,539.13 L112.4,538.46 L113.6,537.75 L114.8,537.00 L116.0,536.22 L117.2,535.41 L118.4,534.57 L119.6,533.70 L120.8,532.81 L122.0,531.89 L123.2,530.96 L124.4,530.01 L125.6,529.04 L126.8,528.06 L128.0,527.07 L129.2,526.07 L130.4,525.06 L131.6,524.05 L132.8,523.04 L134.0,522.02 L135.2,521.01 L136.4,519.99 L137.6,518.97 L138.8,517.95 L140.0,516.93 L141.2,515.91 L142.4,514.89 L143.6,513.87 L144.8,512.85 L146.0,511.83 L147.2,510.82 L148.4,509.81 L149.6,508.81 L150.8,507.80 L152.0,506.81 L153.2,505.81 L154.4,504.83 L155.6,503.85 L156.8,502.87 L158.0,501.90 L159.2,500.94 L160.4,499.99 L161.6,499.05 L162.8,498.11 L164.0,497.18 L165.2,496.27 L166.4,495.36 L167.6,494.47 L168.8,493.58 L170.0,492.71 L171.2,491.84 L172.4,490.99 L173.6,490.15 L174.8,489.32 L176.0,488.50 L177.2,487.70 L178.4,486.90 L179.6,486.11 L180.8,485.34 L182.0,484.58 L183.2,483.82 L184.4,483.08 L185.6,482.35 L186.8,481.62 L188.0,480.91 L189.2,480.21 L190.4,479.52 L191.6,478.84 L192.8,478.17 L194.0,477.51 L195.2,476.85 L196.4,476.21 L197.6,475.58 L198.8,474.96 L200.0,474.35 L201.2,473.75 L202.4,473.16 L203.6,472.57 L204.8,472.00 L206.0,471.44 L207.2,470.88 L208.4,470.34 L209.6,469.81 L210.8,469.28 L212.0,468.76 L213.2,468.26 L214.4,467.76 L215.6,467.27 L216.8,466.79 L218.0,466.32 L219.2,465.85 L220.4,465.40 L221.6,464.96 L222.8,464.52 L224.0,464.09 L225.2,463.67 L226.4,463.26 L227.6,462.86 L228.8,462.47 L230.0,462.08 L231.2,461.71 L232.4,461.34 L233.6,460.98 L234.8,460.63 L236.0,460.28 L237.2,459.95 L238.4,459.63 L239.6,459.32 L240.8,459.02 L242.0,458.74 L243.2,458.47 L244.4,458.21 L245.6,457.97 L246.8,457.75 L248.0,457.54 L249.2,457.36 L250.4,457.19 L251.6,457.04 L252.8,456.91 L254.0,456.79 L255.2,456.70 L256.4,456.62 L257.6,456.56 L258.8,456.51 L260.0,456.47 L261.2,456.44 L262.4,456.42 L263.6,456.40 L264.8,456.39 L266.0,456.38 L267.2,456.38 L268.4,456.37 L269.6,456.36 L270.8,456.35 L272.0,456.34 L273.2,456.32 L274.4,456.30 L275.6,456.27 L276.8,456.24 L278.0,456.21 L279.2,456.18 L280.4,456.15 L281.6,456.11 L282.8,456.07 L284.0,456.04 L285.2,456.00 L286.4,455.96 L287.6,455.93 L288.8,455.89 L290.0,455.86 L291.2,455.83 L292.4,455.80 L293.6,455.77 L294.8,455.75 L296.0,455.73 L297.2,455.71 L298.4,455.70 L299.6,455.69 L300.8,455.69 L302.0,455.69 L303.2,455.70 L304.4,455.71 L305.6,455.73 L306.8,455.76 L308.0,455.79 L309.2,455.84 L310.4,455.88 L311.6,455.94 L312.8,456.00 L314.0,456.08 L315.2,456.16 L316.4,456.24 L317.6,456.34 L318.8,456.44 L320.0,456.55 L321.2,456.67 L322.4,456.79 L323.6,456.92 L324.8,457.06 L326.0,457.21 L327.2,457.36 L328.4,457.53 L329.6,457.70 L330.8,457.87 L332.0,458.06 L333.2,458.25 L334.4,458.45 L335.6,458.66 L336.8,458.87 L338.0,459.10 L339.2,459.33 L340.4,459.56 L341.6,459.81 L342.8,460.06 L344.0,460.32 L345.2,460.59 L346.4,460.87 L347.6,461.15 L348.8,461.44 L350.0,461.74 L351.2,462.04 L352.4,462.36 L353.6,462.68 L354.8,463.01 L356.0,463.34 L357.2,463.68 L358.4,464.04 L359.6,464.39 L360.8,464.76 L362.0,465.13 L363.2,465.51 L364.4,465.90 L365.6,466.30 L366.8,466.70 L368.0,467.11 L369.2,467.53 L370.4,467.96 L371.6,468.39 L372.0,468.54" fill="none" stroke="#f29550" stroke-width="2.3" stroke-linejoin="round" stroke-linecap="round"/>
<path d="M96.8,543.42 L98.0,543.37 L99.2,543.26 L100.4,543.08 L101.6,542.84 L102.8,542.55 L104.0,542.19 L105.2,541.77 L106.4,541.30 L107.6,540.78 L108.8,540.20 L110.0,539.58 L111.2,538.91 L112.4,538.19 L113.6,537.43 L114.8,536.63 L116.0,535.79 L117.2,534.91 L118.4,533.99 L119.6,533.04 L120.8,532.06 L122.0,531.05 L123.2,530.01 L124.4,528.94 L125.6,527.85 L126.8,526.73 L128.0,525.59 L129.2,524.44 L130.4,523.27 L131.6,522.08 L132.8,520.88 L134.0,519.67 L135.2,518.45 L136.4,517.22 L137.6,515.98 L138.8,514.74 L140.0,513.50 L141.2,512.26 L142.4,511.02 L143.6,509.78 L144.8,508.55 L146.0,507.33 L147.2,506.12 L148.4,504.92 L149.6,503.73 L150.8,502.55 L152.0,501.39 L153.2,500.24 L154.4,499.11 L155.6,497.99 L156.8,496.87 L158.0,495.77 L159.2,494.69 L160.4,493.61 L161.6,492.54 L162.8,491.48 L164.0,490.43 L165.2,489.38 L166.4,488.35 L167.6,487.32 L168.8,486.29 L170.0,485.28 L171.2,484.27 L172.4,483.26 L173.6,482.26 L174.8,481.26 L176.0,480.26 L177.2,479.27 L178.4,478.28 L179.6,477.29 L180.8,476.30 L182.0,475.31 L183.2,474.33 L184.4,473.34 L185.6,472.35 L186.8,471.36 L188.0,470.37 L189.2,469.37 L190.4,468.38 L191.6,467.39 L192.8,466.39 L194.0,465.40 L195.2,464.42 L196.4,463.43 L197.6,462.45 L198.8,461.48 L200.0,460.51 L201.2,459.55 L202.4,458.60 L203.6,457.66 L204.8,456.72 L206.0,455.80 L207.2,454.89 L208.4,453.99 L209.6,453.10 L210.8,452.23 L212.0,451.37 L213.2,450.53 L214.4,449.71 L215.6,448.90 L216.8,448.11 L218.0,447.34 L219.2,446.58 L220.4,445.85 L221.6,445.14 L222.8,444.45 L224.0,443.79 L225.2,443.15 L226.4,442.53 L227.6,441.94 L228.8,441.37 L230.0,440.83 L231.2,440.31 L232.4,439.81 L233.6,439.33 L234.8,438.88 L236.0,438.46 L237.2,438.05 L238.4,437.67 L239.6,437.31 L240.8,436.97 L242.0,436.66 L243.2,436.36 L244.4,436.09 L245.6,435.85 L246.8,435.62 L248.0,435.41 L249.2,435.23 L250.4,435.07 L251.6,434.93 L252.8,434.81 L254.0,434.71 L255.2,434.63 L256.4,434.57 L257.6,434.53 L258.8,434.51 L260.0,434.50 L261.2,434.50 L262.4,434.52 L263.6,434.56 L264.8,434.60 L266.0,434.66 L267.2,434.73 L268.4,434.81 L269.6,434.90 L270.8,435.00 L272.0,435.11 L273.2,435.22 L274.4,435.34 L275.6,435.47 L276.8,435.59 L278.0,435.73 L279.2,435.86 L280.4,436.00 L281.6,436.13 L282.8,436.27 L284.0,436.41 L285.2,436.54 L286.4,436.67 L287.6,436.80 L288.8,436.92 L290.0,437.04 L291.2,437.16 L292.4,437.27 L293.6,437.38 L294.8,437.48 L296.0,437.59 L297.2,437.70 L298.4,437.80 L299.6,437.91 L300.8,438.03 L302.0,438.15 L303.2,438.27 L304.4,438.40 L305.6,438.54 L306.8,438.69 L308.0,438.85 L309.2,439.01 L310.4,439.19 L311.6,439.39 L312.8,439.60 L314.0,439.82 L315.2,440.06 L316.4,440.32 L317.6,440.59 L318.8,440.89 L320.0,441.20 L321.2,441.54 L322.4,441.90 L323.6,442.28 L324.8,442.69 L326.0,443.12 L327.2,443.58 L328.4,444.07 L329.6,444.58 L330.8,445.12 L332.0,445.68 L333.2,446.27 L334.4,446.87 L335.6,447.49 L336.8,448.13 L338.0,448.79 L339.2,449.46 L340.4,450.14 L341.6,450.84 L342.8,451.54 L344.0,452.26 L345.2,452.98 L346.4,453.71 L347.6,454.45 L348.8,455.18 L350.0,455.92 L351.2,456.67 L352.4,457.41 L353.6,458.15 L354.8,458.88 L356.0,459.61 L357.2,460.34 L358.4,461.05 L359.6,461.76 L360.8,462.46 L362.0,463.14 L363.2,463.82 L364.4,464.47 L365.6,465.12 L366.8,465.74 L368.0,466.35 L369.2,466.93 L370.4,467.50 L371.6,468.04 L372.0,468.21" fill="none" stroke="#e8bf58" stroke-width="2.3" stroke-linejoin="round" stroke-linecap="round"/>
<path d="M96.8,543.41 L98.0,543.52 L99.2,543.53 L100.4,543.43 L101.6,543.23 L102.8,542.93 L104.0,542.55 L105.2,542.09 L106.4,541.54 L107.6,540.93 L108.8,540.25 L110.0,539.52 L111.2,538.73 L112.4,537.89 L113.6,537.01 L114.8,536.09 L116.0,535.15 L117.2,534.17 L118.4,533.17 L119.6,532.15 L120.8,531.10 L122.0,530.03 L123.2,528.94 L124.4,527.84 L125.6,526.71 L126.8,525.56 L128.0,524.40 L129.2,523.22 L130.4,522.03 L131.6,520.83 L132.8,519.61 L134.0,518.39 L135.2,517.15 L136.4,515.91 L137.6,514.66 L138.8,513.40 L140.0,512.14 L141.2,510.87 L142.4,509.61 L143.6,508.34 L144.8,507.07 L146.0,505.80 L147.2,504.53 L148.4,503.27 L149.6,502.01 L150.8,500.76 L152.0,499.51 L153.2,498.27 L154.4,497.03 L155.6,495.80 L156.8,494.57 L158.0,493.36 L159.2,492.14 L160.4,490.94 L161.6,489.74 L162.8,488.54 L164.0,487.36 L165.2,486.18 L166.4,485.00 L167.6,483.84 L168.8,482.68 L170.0,481.53 L171.2,480.39 L172.4,479.25 L173.6,478.12 L174.8,477.00 L176.0,475.89 L177.2,474.79 L178.4,473.70 L179.6,472.61 L180.8,471.53 L182.0,470.46 L183.2,469.40 L184.4,468.35 L185.6,467.31 L186.8,466.28 L188.0,465.26 L189.2,464.25 L190.4,463.24 L191.6,462.25 L192.8,461.27 L194.0,460.29 L195.2,459.33 L196.4,458.38 L197.6,457.44 L198.8,456.51 L200.0,455.59 L201.2,454.68 L202.4,453.78 L203.6,452.90 L204.8,452.02 L206.0,451.16 L207.2,450.31 L208.4,449.47 L209.6,448.64 L210.8,447.83 L212.0,447.03 L213.2,446.24 L214.4,445.46 L215.6,444.69 L216.8,443.94 L218.0,443.20 L219.2,442.48 L220.4,441.76 L221.6,441.06 L222.8,440.38 L224.0,439.70 L225.2,439.05 L226.4,438.40 L227.6,437.77 L228.8,437.16 L230.0,436.56 L231.2,435.99 L232.4,435.43 L233.6,434.89 L234.8,434.37 L236.0,433.87 L237.2,433.40 L238.4,432.95 L239.6,432.52 L240.8,432.12 L242.0,431.74 L243.2,431.39 L244.4,431.07 L245.6,430.77 L246.8,430.51 L248.0,430.27 L249.2,430.07 L250.4,429.90 L251.6,429.76 L252.8,429.65 L254.0,429.58 L255.2,429.54 L256.4,429.53 L257.6,429.55 L258.8,429.59 L260.0,429.66 L261.2,429.75 L262.4,429.87 L263.6,430.01 L264.8,430.17 L266.0,430.34 L267.2,430.54 L268.4,430.74 L269.6,430.97 L270.8,431.20 L272.0,431.45 L273.2,431.71 L274.4,431.97 L275.6,432.24 L276.8,432.52 L278.0,432.81 L279.2,433.09 L280.4,433.38 L281.6,433.66 L282.8,433.95 L284.0,434.23 L285.2,434.51 L286.4,434.78 L287.6,435.05 L288.8,435.30 L290.0,435.55 L291.2,435.78 L292.4,436.01 L293.6,436.23 L294.8,436.44 L296.0,436.65 L297.2,436.85 L298.4,437.05 L299.6,437.25 L300.8,437.44 L302.0,437.64 L303.2,437.83 L304.4,438.03 L305.6,438.23 L306.8,438.44 L308.0,438.65 L309.2,438.86 L310.4,439.08 L311.6,439.31 L312.8,439.55 L314.0,439.80 L315.2,440.07 L316.4,440.34 L317.6,440.63 L318.8,440.93 L320.0,441.25 L321.2,441.58 L322.4,441.94 L323.6,442.31 L324.8,442.70 L326.0,443.11 L327.2,443.55 L328.4,444.01 L329.6,444.48 L330.8,444.98 L332.0,445.50 L333.2,446.04 L334.4,446.60 L335.6,447.17 L336.8,447.75 L338.0,448.35 L339.2,448.96 L340.4,449.59 L341.6,450.22 L342.8,450.86 L344.0,451.51 L345.2,452.17 L346.4,452.84 L347.6,453.51 L348.8,454.18 L350.0,454.86 L351.2,455.53 L352.4,456.21 L353.6,456.89 L354.8,457.57 L356.0,458.24 L357.2,458.91 L358.4,459.57 L359.6,460.23 L360.8,460.88 L362.0,461.52 L363.2,462.16 L364.4,462.78 L365.6,463.39 L366.8,463.98 L368.0,464.57 L369.2,465.14 L370.4,465.69 L371.6,466.22 L372.0,466.40" fill="none" stroke="#7eaa6c" stroke-width="2.3" stroke-linejoin="round" stroke-linecap="round"/>
<path d="M96.8,543.44 L98.0,543.45 L99.2,543.38 L100.4,543.24 L101.6,543.02 L102.8,542.73 L104.0,542.37 L105.2,541.94 L106.4,541.46 L107.6,540.91 L108.8,540.30 L110.0,539.64 L111.2,538.92 L112.4,538.16 L113.6,537.35 L114.8,536.50 L116.0,535.61 L117.2,534.68 L118.4,533.71 L119.6,532.72 L120.8,531.70 L122.0,530.65 L123.2,529.58 L124.4,528.48 L125.6,527.38 L126.8,526.25 L128.0,525.12 L129.2,523.98 L130.4,522.83 L131.6,521.68 L132.8,520.53 L134.0,519.38 L135.2,518.22 L136.4,517.07 L137.6,515.91 L138.8,514.75 L140.0,513.58 L141.2,512.42 L142.4,511.25 L143.6,510.09 L144.8,508.92 L146.0,507.75 L147.2,506.57 L148.4,505.40 L149.6,504.23 L150.8,503.05 L152.0,501.88 L153.2,500.70 L154.4,499.52 L155.6,498.34 L156.8,497.16 L158.0,495.98 L159.2,494.79 L160.4,493.61 L161.6,492.43 L162.8,491.24 L164.0,490.06 L165.2,488.87 L166.4,487.69 L167.6,486.50 L168.8,485.32 L170.0,484.13 L171.2,482.94 L172.4,481.75 L173.6,480.57 L174.8,479.38 L176.0,478.19 L177.2,477.00 L178.4,475.81 L179.6,474.63 L180.8,473.44 L182.0,472.25 L183.2,471.06 L184.4,469.87 L185.6,468.68 L186.8,467.49 L188.0,466.30 L189.2,465.11 L190.4,463.92 L191.6,462.72 L192.8,461.53 L194.0,460.34 L195.2,459.15 L196.4,457.96 L197.6,456.77 L198.8,455.58 L200.0,454.38 L201.2,453.19 L202.4,452.00 L203.6,450.81 L204.8,449.62 L206.0,448.42 L207.2,447.23 L208.4,446.04 L209.6,444.86 L210.8,443.68 L212.0,442.51 L213.2,441.36 L214.4,440.21 L215.6,439.08 L216.8,437.97 L218.0,436.87 L219.2,435.80 L220.4,434.75 L221.6,433.73 L222.8,432.73 L224.0,431.76 L225.2,430.83 L226.4,429.93 L227.6,429.06 L228.8,428.23 L230.0,427.44 L231.2,426.69 L232.4,425.99 L233.6,425.33 L234.8,424.72 L236.0,424.15 L237.2,423.63 L238.4,423.15 L239.6,422.72 L240.8,422.33 L242.0,421.98 L243.2,421.67 L244.4,421.40 L245.6,421.18 L246.8,420.99 L248.0,420.83 L249.2,420.72 L250.4,420.64 L251.6,420.60 L252.8,420.59 L254.0,420.61 L255.2,420.67 L256.4,420.76 L257.6,420.89 L258.8,421.04 L260.0,421.22 L261.2,421.44 L262.4,421.68 L263.6,421.95 L264.8,422.24 L266.0,422.56 L267.2,422.90 L268.4,423.27 L269.6,423.65 L270.8,424.06 L272.0,424.49 L273.2,424.93 L274.4,425.39 L275.6,425.86 L276.8,426.35 L278.0,426.85 L279.2,427.36 L280.4,427.88 L281.6,428.41 L282.8,428.95 L284.0,429.49 L285.2,430.04 L286.4,430.59 L287.6,431.15 L288.8,431.70 L290.0,432.26 L291.2,432.82 L292.4,433.37 L293.6,433.92 L294.8,434.47 L296.0,435.01 L297.2,435.54 L298.4,436.06 L299.6,436.58 L300.8,437.08 L302.0,437.58 L303.2,438.07 L304.4,438.55 L305.6,439.03 L306.8,439.50 L308.0,439.97 L309.2,440.44 L310.4,440.90 L311.6,441.36 L312.8,441.83 L314.0,442.29 L315.2,442.76 L316.4,443.23 L317.6,443.71 L318.8,444.19 L320.0,444.67 L321.2,445.16 L322.4,445.66 L323.6,446.17 L324.8,446.69 L326.0,447.22 L327.2,447.76 L328.4,448.31 L329.6,448.87 L330.8,449.45 L332.0,450.05 L333.2,450.66 L334.4,451.29 L335.6,451.93 L336.8,452.60 L338.0,453.28 L339.2,453.98 L340.4,454.70 L341.6,455.43 L342.8,456.18 L344.0,456.93 L345.2,457.70 L346.4,458.47 L347.6,459.25 L348.8,460.03 L350.0,460.82 L351.2,461.61 L352.4,462.40 L353.6,463.19 L354.8,463.97 L356.0,464.76 L357.2,465.53 L358.4,466.30 L359.6,467.07 L360.8,467.82 L362.0,468.56 L363.2,469.28 L364.4,469.99 L365.6,470.69 L366.8,471.37 L368.0,472.02 L369.2,472.66 L370.4,473.28 L371.6,473.87 L372.0,474.06" fill="none" stroke="#1f998b" stroke-width="2.3" stroke-linejoin="round" stroke-linecap="round"/>
<path d="M96.8,543.24 L98.0,543.31 L99.2,543.30 L100.4,543.20 L101.6,543.03 L102.8,542.78 L104.0,542.46 L105.2,542.07 L106.4,541.62 L107.6,541.09 L108.8,540.51 L110.0,539.87 L111.2,539.17 L112.4,538.42 L113.6,537.62 L114.8,536.77 L116.0,535.87 L117.2,534.94 L118.4,533.97 L119.6,532.96 L120.8,531.92 L122.0,530.85 L123.2,529.75 L124.4,528.63 L125.6,527.50 L126.8,526.35 L128.0,525.18 L129.2,524.01 L130.4,522.83 L131.6,521.65 L132.8,520.46 L134.0,519.27 L135.2,518.09 L136.4,516.90 L137.6,515.70 L138.8,514.51 L140.0,513.32 L141.2,512.13 L142.4,510.93 L143.6,509.74 L144.8,508.54 L146.0,507.35 L147.2,506.16 L148.4,504.97 L149.6,503.78 L150.8,502.59 L152.0,501.40 L153.2,500.22 L154.4,499.04 L155.6,497.86 L156.8,496.68 L158.0,495.51 L159.2,494.34 L160.4,493.17 L161.6,492.01 L162.8,490.85 L164.0,489.69 L165.2,488.54 L166.4,487.40 L167.6,486.26 L168.8,485.12 L170.0,483.99 L171.2,482.86 L172.4,481.74 L173.6,480.62 L174.8,479.50 L176.0,478.39 L177.2,477.27 L178.4,476.15 L179.6,475.03 L180.8,473.91 L182.0,472.79 L183.2,471.66 L184.4,470.53 L185.6,469.40 L186.8,468.25 L188.0,467.10 L189.2,465.95 L190.4,464.78 L191.6,463.61 L192.8,462.43 L194.0,461.23 L195.2,460.03 L196.4,458.81 L197.6,457.58 L198.8,456.34 L200.0,455.08 L201.2,453.80 L202.4,452.51 L203.6,451.21 L204.8,449.88 L206.0,448.54 L207.2,447.18 L208.4,445.81 L209.6,444.42 L210.8,443.03 L212.0,441.64 L213.2,440.24 L214.4,438.85 L215.6,437.47 L216.8,436.10 L218.0,434.74 L219.2,433.40 L220.4,432.08 L221.6,430.79 L222.8,429.52 L224.0,428.29 L225.2,427.09 L226.4,425.93 L227.6,424.82 L228.8,423.75 L230.0,422.73 L231.2,421.76 L232.4,420.86 L233.6,420.01 L234.8,419.22 L236.0,418.50 L237.2,417.83 L238.4,417.22 L239.6,416.67 L240.8,416.18 L242.0,415.74 L243.2,415.36 L244.4,415.02 L245.6,414.74 L246.8,414.51 L248.0,414.33 L249.2,414.20 L250.4,414.12 L251.6,414.08 L252.8,414.08 L254.0,414.13 L255.2,414.22 L256.4,414.36 L257.6,414.53 L258.8,414.74 L260.0,414.99 L261.2,415.28 L262.4,415.61 L263.6,415.96 L264.8,416.35 L266.0,416.78 L267.2,417.23 L268.4,417.72 L269.6,418.23 L270.8,418.78 L272.0,419.34 L273.2,419.93 L274.4,420.53 L275.6,421.13 L276.8,421.73 L278.0,422.32 L279.2,422.90 L280.4,423.46 L281.6,423.99 L282.8,424.48 L284.0,424.95 L285.2,425.38 L286.4,425.78 L287.6,426.17 L288.8,426.53 L290.0,426.87 L291.2,427.21 L292.4,427.53 L293.6,427.85 L294.8,428.16 L296.0,428.47 L297.2,428.78 L298.4,429.11 L299.6,429.44 L300.8,429.78 L302.0,430.14 L303.2,430.52 L304.4,430.92 L305.6,431.35 L306.8,431.80 L308.0,432.28 L309.2,432.78 L310.4,433.31 L311.6,433.85 L312.8,434.42 L314.0,435.01 L315.2,435.61 L316.4,436.24 L317.6,436.88 L318.8,437.55 L320.0,438.23 L321.2,438.92 L322.4,439.63 L323.6,440.36 L324.8,441.10 L326.0,441.85 L327.2,442.62 L328.4,443.39 L329.6,444.18 L330.8,444.98 L332.0,445.79 L333.2,446.60 L334.4,447.43 L335.6,448.26 L336.8,449.09 L338.0,449.94 L339.2,450.79 L340.4,451.64 L341.6,452.50 L342.8,453.35 L344.0,454.22 L345.2,455.08 L346.4,455.94 L347.6,456.80 L348.8,457.67 L350.0,458.53 L351.2,459.38 L352.4,460.24 L353.6,461.09 L354.8,461.93 L356.0,462.77 L357.2,463.61 L358.4,464.44 L359.6,465.26 L360.8,466.07 L362.0,466.87 L363.2,467.66 L364.4,468.44 L365.6,469.22 L366.8,469.97 L368.0,470.72 L369.2,471.45 L370.4,472.17 L371.6,472.87 L372.0,473.10" fill="none" stroke="#1f6d68" stroke-width="2.3" stroke-linejoin="round" stroke-linecap="round"/>
<path d="M96.8,543.20 L98.0,543.29 L99.2,543.29 L100.4,543.22 L101.6,543.06 L102.8,542.83 L104.0,542.52 L105.2,542.14 L106.4,541.70 L107.6,541.18 L108.8,540.61 L110.0,539.97 L111.2,539.27 L112.4,538.51 L113.6,537.70 L114.8,536.83 L116.0,535.92 L117.2,534.96 L118.4,533.96 L119.6,532.92 L120.8,531.84 L122.0,530.74 L123.2,529.61 L124.4,528.46 L125.6,527.30 L126.8,526.12 L128.0,524.93 L129.2,523.74 L130.4,522.55 L131.6,521.37 L132.8,520.19 L134.0,519.02 L135.2,517.85 L136.4,516.68 L137.6,515.52 L138.8,514.36 L140.0,513.20 L141.2,512.05 L142.4,510.90 L143.6,509.75 L144.8,508.60 L146.0,507.45 L147.2,506.31 L148.4,505.16 L149.6,504.02 L150.8,502.87 L152.0,501.72 L153.2,500.57 L154.4,499.42 L155.6,498.27 L156.8,497.11 L158.0,495.95 L159.2,494.79 L160.4,493.63 L161.6,492.46 L162.8,491.29 L164.0,490.11 L165.2,488.93 L166.4,487.74 L167.6,486.55 L168.8,485.35 L170.0,484.14 L171.2,482.93 L172.4,481.71 L173.6,480.49 L174.8,479.26 L176.0,478.02 L177.2,476.78 L178.4,475.53 L179.6,474.28 L180.8,473.02 L182.0,471.75 L183.2,470.48 L184.4,469.20 L185.6,467.92 L186.8,466.63 L188.0,465.33 L189.2,464.03 L190.4,462.73 L191.6,461.42 L192.8,460.10 L194.0,458.78 L195.2,457.45 L196.4,456.12 L197.6,454.78 L198.8,453.43 L200.0,452.09 L201.2,450.73 L202.4,449.37 L203.6,448.01 L204.8,446.64 L206.0,445.26 L207.2,443.89 L208.4,442.51 L209.6,441.13 L210.8,439.75 L212.0,438.38 L213.2,437.03 L214.4,435.68 L215.6,434.35 L216.8,433.03 L218.0,431.73 L219.2,430.46 L220.4,429.21 L221.6,427.99 L222.8,426.80 L224.0,425.64 L225.2,424.52 L226.4,423.43 L227.6,422.39 L228.8,421.39 L230.0,420.44 L231.2,419.53 L232.4,418.68 L233.6,417.88 L234.8,417.14 L236.0,416.45 L237.2,415.81 L238.4,415.23 L239.6,414.70 L240.8,414.22 L242.0,413.80 L243.2,413.42 L244.4,413.10 L245.6,412.82 L246.8,412.59 L248.0,412.41 L249.2,412.28 L250.4,412.20 L251.6,412.16 L252.8,412.16 L254.0,412.22 L255.2,412.31 L256.4,412.45 L257.6,412.63 L258.8,412.86 L260.0,413.12 L261.2,413.43 L262.4,413.78 L263.6,414.17 L264.8,414.60 L266.0,415.06 L267.2,415.56 L268.4,416.11 L269.6,416.68 L270.8,417.30 L272.0,417.94 L273.2,418.62 L274.4,419.31 L275.6,420.02 L276.8,420.73 L278.0,421.44 L279.2,422.14 L280.4,422.83 L281.6,423.50 L282.8,424.14 L284.0,424.75 L285.2,425.33 L286.4,425.90 L287.6,426.45 L288.8,426.98 L290.0,427.50 L291.2,428.02 L292.4,428.52 L293.6,429.03 L294.8,429.53 L296.0,430.04 L297.2,430.56 L298.4,431.08 L299.6,431.62 L300.8,432.17 L302.0,432.74 L303.2,433.32 L304.4,433.91 L305.6,434.51 L306.8,435.12 L308.0,435.75 L309.2,436.38 L310.4,437.03 L311.6,437.69 L312.8,438.36 L314.0,439.03 L315.2,439.72 L316.4,440.42 L317.6,441.12 L318.8,441.83 L320.0,442.55 L321.2,443.28 L322.4,444.01 L323.6,444.75 L324.8,445.50 L326.0,446.25 L327.2,447.01 L328.4,447.77 L329.6,448.54 L330.8,449.31 L332.0,450.08 L333.2,450.86 L334.4,451.65 L335.6,452.43 L336.8,453.22 L338.0,454.01 L339.2,454.81 L340.4,455.60 L341.6,456.39 L342.8,457.19 L344.0,457.99 L345.2,458.78 L346.4,459.58 L347.6,460.38 L348.8,461.17 L350.0,461.96 L351.2,462.75 L352.4,463.54 L353.6,464.33 L354.8,465.11 L356.0,465.89 L357.2,466.67 L358.4,467.44 L359.6,468.21 L360.8,468.97 L362.0,469.73 L363.2,470.49 L364.4,471.23 L365.6,471.97 L366.8,472.71 L368.0,473.44 L369.2,474.16 L370.4,474.87 L371.6,475.57 L372.0,475.81" fill="none" stroke="#1f4250" stroke-width="2.3" stroke-linejoin="round" stroke-linecap="round"/>
<line x1="251.8" y1="487" x2="251.8" y2="404" stroke="#000" stroke-width="2.8" stroke-dasharray="7,3.7"/>
<path d="M246.5,403.5 L257.1,403.5 L251.8,388.4 Z" fill="#000"/>
<text transform="translate(252.30,375.70) scale(1.04,1)" font-size="12.2" font-weight="bold" font-style="italic" text-anchor="middle" fill="#000" stroke="#000" stroke-width="0.35" >&#965;(OH) (H-Bonded)</text>
<line x1="101.3" y1="358.5" x2="133.5" y2="358.5" stroke="#e3603a" stroke-width="2.3" stroke-linecap="round"/>
<text transform="translate(136.70,363.10) scale(1.0,1)" font-size="14" font-weight="normal" font-style="normal" text-anchor="start" fill="#111" >0 M</text>
<line x1="101.3" y1="375.4" x2="133.5" y2="375.4" stroke="#f29550" stroke-width="2.3" stroke-linecap="round"/>
<text transform="translate(136.70,380.00) scale(1.0,1)" font-size="14" font-weight="normal" font-style="normal" text-anchor="start" fill="#111" >1 M</text>
<line x1="101.3" y1="392.3" x2="133.5" y2="392.3" stroke="#e8bf58" stroke-width="2.3" stroke-linecap="round"/>
<text transform="translate(136.70,396.90) scale(1.0,1)" font-size="14" font-weight="normal" font-style="normal" text-anchor="start" fill="#111" >2 M</text>
<line x1="101.3" y1="408.8" x2="133.5" y2="408.8" stroke="#7eaa6c" stroke-width="2.3" stroke-linecap="round"/>
<text transform="translate(136.70,413.40) scale(1.0,1)" font-size="14" font-weight="normal" font-style="normal" text-anchor="start" fill="#111" >3 M</text>
<line x1="101.3" y1="425.7" x2="133.5" y2="425.7" stroke="#1f998b" stroke-width="2.3" stroke-linecap="round"/>
<text transform="translate(136.70,430.30) scale(1.0,1)" font-size="14" font-weight="normal" font-style="normal" text-anchor="start" fill="#111" >4 M</text>
<line x1="101.3" y1="442.6" x2="133.5" y2="442.6" stroke="#1f6d68" stroke-width="2.3" stroke-linecap="round"/>
<text transform="translate(136.70,447.20) scale(1.0,1)" font-size="14" font-weight="normal" font-style="normal" text-anchor="start" fill="#111" >5 M</text>
<line x1="101.3" y1="459.5" x2="133.5" y2="459.5" stroke="#1f4250" stroke-width="2.3" stroke-linecap="round"/>
<text transform="translate(136.70,464.10) scale(1.0,1)" font-size="14" font-weight="normal" font-style="normal" text-anchor="start" fill="#111" >6 M</text>
<rect x="95.3" y="346.3" width="277.59999999999997" height="221.99999999999994" fill="none" stroke="#000" stroke-width="2.8"/>
<text transform="translate(396.00,351.20) scale(1,1)" font-size="29" font-weight="bold" font-style="normal" text-anchor="start" fill="#000" stroke="#000" stroke-width="0.35" >e</text>
<rect x="538.3" y="403.3" width="37.7" height="164.3" fill="#e8f0e4"/>
<rect x="585.3" y="435" width="51.6" height="132.60000000000002" fill="#e4f7f6"/>
<rect x="667.8" y="377" width="42.2" height="190.60000000000002" fill="#f3ecd2"/>
<line x1="467.0" y1="567.6" x2="467.0" y2="572.1" stroke="#000" stroke-width="2"/>
<line x1="553.7" y1="567.6" x2="553.7" y2="572.1" stroke="#000" stroke-width="2"/>
<line x1="640.4" y1="567.6" x2="640.4" y2="572.1" stroke="#000" stroke-width="2"/>
<line x1="727.1" y1="567.6" x2="727.1" y2="572.1" stroke="#000" stroke-width="2"/>
<line x1="510.4" y1="567.6" x2="510.4" y2="570.1" stroke="#000" stroke-width="2"/>
<line x1="597.0" y1="567.6" x2="597.0" y2="570.1" stroke="#000" stroke-width="2"/>
<line x1="683.8" y1="567.6" x2="683.8" y2="570.1" stroke="#000" stroke-width="2"/>
<text transform="translate(467.00,592.60) scale(0.935,1)" font-size="20.3" font-weight="bold" font-style="normal" text-anchor="middle" fill="#000" stroke="#000" stroke-width="0.35" >1800</text>
<text transform="translate(553.70,592.60) scale(0.935,1)" font-size="20.3" font-weight="bold" font-style="normal" text-anchor="middle" fill="#000" stroke="#000" stroke-width="0.35" >1700</text>
<text transform="translate(640.40,592.60) scale(0.935,1)" font-size="20.3" font-weight="bold" font-style="normal" text-anchor="middle" fill="#000" stroke="#000" stroke-width="0.35" >1600</text>
<text transform="translate(727.10,592.60) scale(0.935,1)" font-size="20.3" font-weight="bold" font-style="normal" text-anchor="middle" fill="#000" stroke="#000" stroke-width="0.35" >1500</text>
<text transform="translate(604.9,612.6) scale(0.935,1)" font-size="20.3" font-weight="bold" stroke="#000" stroke-width="0.35" text-anchor="middle">Wavenumber (cm<tspan dy="-8" font-size="13">-1</tspan><tspan dy="8">)</tspan></text>
<text transform="translate(455.5,458.5) rotate(-90) scale(0.925,1)" x="0" y="0" font-size="20.3" font-weight="bold" text-anchor="middle" fill="#000" stroke="#000" stroke-width="0.35" xml:space="preserve">Absorbance (a.u.)</text>
<path d="M466.8,562.13 L468.0,561.71 L469.2,561.34 L470.4,561.03 L471.6,560.78 L472.8,560.57 L474.0,560.39 L475.2,560.26 L476.4,560.15 L477.6,560.07 L478.8,560.01 L480.0,559.96 L481.2,559.92 L482.4,559.89 L483.6,559.85 L484.8,559.81 L486.0,559.76 L487.2,559.70 L488.4,559.61 L489.6,559.50 L490.8,559.35 L492.0,559.17 L493.2,558.95 L494.4,558.69 L495.6,558.37 L496.8,557.99 L498.0,557.56 L499.2,557.05 L500.4,556.48 L501.6,555.83 L502.8,555.09 L504.0,554.27 L505.2,553.36 L506.4,552.35 L507.6,551.24 L508.8,550.02 L510.0,548.69 L511.2,547.24 L512.4,545.67 L513.6,543.97 L514.8,542.14 L516.0,540.17 L517.2,538.06 L518.4,535.80 L519.6,533.39 L520.8,530.82 L522.0,528.09 L523.2,525.19 L524.4,522.12 L525.6,518.90 L526.8,515.56 L528.0,512.13 L529.2,508.65 L530.4,505.14 L531.6,501.64 L532.8,498.17 L534.0,494.77 L535.2,491.47 L536.4,488.29 L537.6,485.24 L538.8,482.32 L540.0,479.55 L541.2,476.93 L542.4,474.46 L543.6,472.15 L544.8,470.01 L546.0,468.04 L547.2,466.25 L548.4,464.65 L549.6,463.24 L550.8,462.04 L552.0,461.05 L553.2,460.27 L554.4,459.70 L555.6,459.34 L556.8,459.16 L558.0,459.17 L559.2,459.33 L560.4,459.64 L561.6,460.09 L562.8,460.66 L564.0,461.35 L565.2,462.13 L566.4,463.00 L567.6,463.94 L568.8,464.94 L570.0,465.99 L571.2,467.07 L572.4,468.17 L573.6,469.28 L574.8,470.38 L576.0,471.46 L577.2,472.52 L578.4,473.53 L579.6,474.48 L580.8,475.37 L582.0,476.17 L583.2,476.88 L584.4,477.48 L585.6,477.95 L586.8,478.30 L588.0,478.51 L589.2,478.59 L590.4,478.57 L591.6,478.45 L592.8,478.24 L594.0,477.96 L595.2,477.61 L596.4,477.22 L597.6,476.79 L598.8,476.33 L600.0,475.85 L601.2,475.37 L602.4,474.91 L603.6,474.46 L604.8,474.05 L606.0,473.69 L607.2,473.38 L608.4,473.14 L609.6,472.99 L610.8,472.93 L612.0,472.97 L613.2,473.13 L614.4,473.42 L615.6,473.86 L616.8,474.45 L618.0,475.20 L619.2,476.13 L620.4,477.23 L621.6,478.46 L622.8,479.77 L624.0,481.13 L625.2,482.47 L626.4,483.77 L627.6,484.98 L628.8,486.06 L630.0,487.02 L631.2,487.86 L632.4,488.60 L633.6,489.23 L634.8,489.77 L636.0,490.23 L637.2,490.61 L638.4,490.92 L639.6,491.17 L640.8,491.33 L642.0,491.42 L643.2,491.43 L644.4,491.34 L645.6,491.17 L646.8,490.90 L648.0,490.52 L649.2,490.05 L650.4,489.46 L651.6,488.76 L652.8,487.94 L654.0,487.00 L655.2,485.93 L656.4,484.73 L657.6,483.39 L658.8,481.91 L660.0,480.29 L661.2,478.52 L662.4,476.63 L663.6,474.63 L664.8,472.56 L666.0,470.45 L667.2,468.31 L668.4,466.18 L669.6,464.07 L670.8,462.01 L672.0,459.99 L673.2,458.02 L674.4,456.10 L675.6,454.24 L676.8,452.43 L678.0,450.69 L679.2,449.02 L680.4,447.42 L681.6,445.91 L682.8,444.52 L684.0,443.27 L685.2,442.16 L686.4,441.23 L687.6,440.49 L688.8,439.95 L690.0,439.61 L691.2,439.45 L692.4,439.46 L693.6,439.63 L694.8,439.93 L696.0,440.37 L697.2,440.93 L698.4,441.58 L699.6,442.32 L700.8,443.14 L702.0,444.02 L703.2,444.94 L704.4,445.91 L705.6,446.91 L706.8,447.95 L708.0,449.06 L709.2,450.23 L710.4,451.47 L711.6,452.79 L712.8,454.20 L714.0,455.68 L715.2,457.22 L716.4,458.82 L717.6,460.46 L718.8,462.13 L720.0,463.83 L721.2,465.54 L722.4,467.26 L723.6,468.99 L724.8,470.72 L726.0,472.46 L727.2,474.20 L728.4,475.93 L729.6,477.65 L730.8,479.36 L732.0,481.05 L733.2,482.72 L734.4,484.37 L735.6,485.99 L736.8,487.58 L738.0,489.14 L739.2,490.65 L740.4,492.13 L741.6,493.56 L742.8,494.94 L744.0,496.27 L744.1,496.38" fill="none" stroke="#e3603a" stroke-width="2.3" stroke-linejoin="round" stroke-linecap="round"/>
<path d="M466.8,562.11 L468.0,561.65 L469.2,561.26 L470.4,560.92 L471.6,560.64 L472.8,560.40 L474.0,560.21 L475.2,560.05 L476.4,559.93 L477.6,559.83 L478.8,559.76 L480.0,559.70 L481.2,559.66 L482.4,559.62 L483.6,559.59 L484.8,559.56 L486.0,559.52 L487.2,559.47 L488.4,559.40 L489.6,559.31 L490.8,559.19 L492.0,559.05 L493.2,558.86 L494.4,558.64 L495.6,558.37 L496.8,558.04 L498.0,557.67 L499.2,557.23 L500.4,556.72 L501.6,556.15 L502.8,555.50 L504.0,554.77 L505.2,553.95 L506.4,553.04 L507.6,552.04 L508.8,550.94 L510.0,549.73 L511.2,548.42 L512.4,546.98 L513.6,545.43 L514.8,543.76 L516.0,541.95 L517.2,540.01 L518.4,537.93 L519.6,535.70 L520.8,533.33 L522.0,530.80 L523.2,528.12 L524.4,525.27 L525.6,522.27 L526.8,519.16 L528.0,515.94 L529.2,512.65 L530.4,509.30 L531.6,505.93 L532.8,502.55 L534.0,499.18 L535.2,495.86 L536.4,492.60 L537.6,489.42 L538.8,486.36 L540.0,483.42 L541.2,480.64 L542.4,478.04 L543.6,475.65 L544.8,473.47 L546.0,471.52 L547.2,469.79 L548.4,468.28 L549.6,466.98 L550.8,465.88 L552.0,464.98 L553.2,464.28 L554.4,463.77 L555.6,463.43 L556.8,463.26 L558.0,463.24 L559.2,463.36 L560.4,463.62 L561.6,463.98 L562.8,464.46 L564.0,465.03 L565.2,465.68 L566.4,466.40 L567.6,467.19 L568.8,468.01 L570.0,468.88 L571.2,469.77 L572.4,470.67 L573.6,471.57 L574.8,472.46 L576.0,473.33 L577.2,474.16 L578.4,474.94 L579.6,475.67 L580.8,476.33 L582.0,476.90 L583.2,477.39 L584.4,477.76 L585.6,478.03 L586.8,478.16 L588.0,478.16 L589.2,478.06 L590.4,477.85 L591.6,477.56 L592.8,477.20 L594.0,476.78 L595.2,476.32 L596.4,475.83 L597.6,475.33 L598.8,474.83 L600.0,474.34 L601.2,473.88 L602.4,473.46 L603.6,473.11 L604.8,472.82 L606.0,472.62 L607.2,472.51 L608.4,472.52 L609.6,472.66 L610.8,472.94 L612.0,473.36 L613.2,473.92 L614.4,474.60 L615.6,475.39 L616.8,476.29 L618.0,477.29 L619.2,478.38 L620.4,479.54 L621.6,480.76 L622.8,482.01 L624.0,483.27 L625.2,484.51 L626.4,485.72 L627.6,486.86 L628.8,487.92 L630.0,488.91 L631.2,489.82 L632.4,490.64 L633.6,491.39 L634.8,492.07 L636.0,492.67 L637.2,493.19 L638.4,493.65 L639.6,494.02 L640.8,494.32 L642.0,494.54 L643.2,494.67 L644.4,494.70 L645.6,494.65 L646.8,494.49 L648.0,494.23 L649.2,493.86 L650.4,493.38 L651.6,492.79 L652.8,492.08 L654.0,491.24 L655.2,490.28 L656.4,489.18 L657.6,487.95 L658.8,486.58 L660.0,485.07 L661.2,483.42 L662.4,481.63 L663.6,479.72 L664.8,477.71 L666.0,475.62 L667.2,473.46 L668.4,471.25 L669.6,469.00 L670.8,466.73 L672.0,464.46 L673.2,462.19 L674.4,459.96 L675.6,457.77 L676.8,455.63 L678.0,453.58 L679.2,451.61 L680.4,449.75 L681.6,448.02 L682.8,446.42 L684.0,444.99 L685.2,443.72 L686.4,442.64 L687.6,441.76 L688.8,441.10 L690.0,440.65 L691.2,440.40 L692.4,440.33 L693.6,440.44 L694.8,440.72 L696.0,441.15 L697.2,441.72 L698.4,442.43 L699.6,443.26 L700.8,444.20 L702.0,445.24 L703.2,446.37 L704.4,447.58 L705.6,448.87 L706.8,450.22 L708.0,451.64 L709.2,453.13 L710.4,454.67 L711.6,456.27 L712.8,457.92 L714.0,459.61 L715.2,461.35 L716.4,463.13 L717.6,464.95 L718.8,466.80 L720.0,468.67 L721.2,470.57 L722.4,472.48 L723.6,474.40 L724.8,476.32 L726.0,478.23 L727.2,480.13 L728.4,482.00 L729.6,483.85 L730.8,485.66 L732.0,487.42 L733.2,489.13 L734.4,490.78 L735.6,492.37 L736.8,493.88 L738.0,495.31 L739.2,496.65 L740.4,497.89 L741.6,499.03 L742.8,500.06 L744.0,500.97 L744.1,501.04" fill="none" stroke="#f29550" stroke-width="2.3" stroke-linejoin="round" stroke-linecap="round"/>
<path d="M466.8,562.10 L468.0,561.90 L469.2,561.72 L470.4,561.56 L471.6,561.42 L472.8,561.29 L474.0,561.16 L475.2,561.05 L476.4,560.94 L477.6,560.84 L478.8,560.74 L480.0,560.64 L481.2,560.53 L482.4,560.42 L483.6,560.31 L484.8,560.18 L486.0,560.04 L487.2,559.89 L488.4,559.72 L489.6,559.53 L490.8,559.32 L492.0,559.08 L493.2,558.83 L494.4,558.54 L495.6,558.22 L496.8,557.87 L498.0,557.49 L499.2,557.07 L500.4,556.61 L501.6,556.11 L502.8,555.56 L504.0,554.96 L505.2,554.30 L506.4,553.57 L507.6,552.75 L508.8,551.85 L510.0,550.86 L511.2,549.76 L512.4,548.54 L513.6,547.20 L514.8,545.73 L516.0,544.12 L517.2,542.36 L518.4,540.45 L519.6,538.36 L520.8,536.10 L522.0,533.66 L523.2,531.02 L524.4,528.19 L525.6,525.18 L526.8,522.01 L528.0,518.73 L529.2,515.35 L530.4,511.90 L531.6,508.41 L532.8,504.92 L534.0,501.44 L535.2,498.01 L536.4,494.65 L537.6,491.40 L538.8,488.27 L540.0,485.31 L541.2,482.53 L542.4,479.97 L543.6,477.66 L544.8,475.61 L546.0,473.82 L547.2,472.27 L548.4,470.95 L549.6,469.82 L550.8,468.88 L552.0,468.09 L553.2,467.45 L554.4,466.94 L555.6,466.54 L556.8,466.25 L558.0,466.05 L559.2,465.95 L560.4,465.92 L561.6,465.96 L562.8,466.06 L564.0,466.21 L565.2,466.40 L566.4,466.62 L567.6,466.86 L568.8,467.11 L570.0,467.36 L571.2,467.62 L572.4,467.86 L573.6,468.09 L574.8,468.30 L576.0,468.48 L577.2,468.63 L578.4,468.73 L579.6,468.78 L580.8,468.78 L582.0,468.72 L583.2,468.60 L584.4,468.41 L585.6,468.18 L586.8,467.91 L588.0,467.61 L589.2,467.29 L590.4,466.96 L591.6,466.63 L592.8,466.30 L594.0,465.99 L595.2,465.70 L596.4,465.45 L597.6,465.24 L598.8,465.08 L600.0,464.97 L601.2,464.93 L602.4,464.95 L603.6,465.04 L604.8,465.20 L606.0,465.45 L607.2,465.79 L608.4,466.22 L609.6,466.75 L610.8,467.38 L612.0,468.12 L613.2,468.98 L614.4,469.96 L615.6,471.07 L616.8,472.31 L618.0,473.69 L619.2,475.21 L620.4,476.86 L621.6,478.62 L622.8,480.44 L624.0,482.30 L625.2,484.15 L626.4,485.97 L627.6,487.72 L628.8,489.37 L630.0,490.92 L631.2,492.34 L632.4,493.66 L633.6,494.84 L634.8,495.90 L636.0,496.83 L637.2,497.61 L638.4,498.25 L639.6,498.74 L640.8,499.07 L642.0,499.25 L643.2,499.25 L644.4,499.09 L645.6,498.74 L646.8,498.22 L648.0,497.51 L649.2,496.63 L650.4,495.58 L651.6,494.37 L652.8,493.01 L654.0,491.51 L655.2,489.88 L656.4,488.11 L657.6,486.23 L658.8,484.24 L660.0,482.14 L661.2,479.95 L662.4,477.67 L663.6,475.30 L664.8,472.87 L666.0,470.37 L667.2,467.82 L668.4,465.22 L669.6,462.58 L670.8,459.91 L672.0,457.24 L673.2,454.60 L674.4,451.99 L675.6,449.45 L676.8,446.99 L678.0,444.64 L679.2,442.42 L680.4,440.35 L681.6,438.46 L682.8,436.75 L684.0,435.27 L685.2,434.02 L686.4,433.03 L687.6,432.32 L688.8,431.92 L690.0,431.84 L691.2,432.08 L692.4,432.64 L693.6,433.48 L694.8,434.60 L696.0,435.97 L697.2,437.59 L698.4,439.43 L699.6,441.50 L700.8,443.78 L702.0,446.27 L703.2,448.95 L704.4,451.81 L705.6,454.83 L706.8,457.99 L708.0,461.24 L709.2,464.56 L710.4,467.93 L711.6,471.30 L712.8,474.66 L714.0,477.97 L715.2,481.21 L716.4,484.35 L717.6,487.35 L718.8,490.20 L720.0,492.87 L721.2,495.35 L722.4,497.65 L723.6,499.79 L724.8,501.76 L726.0,503.58 L727.2,505.25 L728.4,506.79 L729.6,508.20 L730.8,509.50 L732.0,510.68 L733.2,511.76 L734.4,512.74 L735.6,513.64 L736.8,514.46 L738.0,515.21 L739.2,515.90 L740.4,516.53 L741.6,517.13 L742.8,517.68 L744.0,518.21 L744.1,518.25" fill="none" stroke="#e8bf58" stroke-width="2.3" stroke-linejoin="round" stroke-linecap="round"/>
<path d="M466.8,563.50 L468.0,563.34 L469.2,563.18 L470.4,563.03 L471.6,562.88 L472.8,562.74 L474.0,562.59 L475.2,562.45 L476.4,562.30 L477.6,562.16 L478.8,562.00 L480.0,561.84 L481.2,561.68 L482.4,561.50 L483.6,561.32 L484.8,561.12 L486.0,560.91 L487.2,560.69 L488.4,560.45 L489.6,560.20 L490.8,559.93 L492.0,559.63 L493.2,559.32 L494.4,558.99 L495.6,558.63 L496.8,558.25 L498.0,557.84 L499.2,557.40 L500.4,556.94 L501.6,556.44 L502.8,555.91 L504.0,555.34 L505.2,554.72 L506.4,554.04 L507.6,553.28 L508.8,552.44 L510.0,551.52 L511.2,550.49 L512.4,549.35 L513.6,548.09 L514.8,546.70 L516.0,545.17 L517.2,543.49 L518.4,541.65 L519.6,539.64 L520.8,537.45 L522.0,535.07 L523.2,532.49 L524.4,529.71 L525.6,526.74 L526.8,523.61 L528.0,520.35 L529.2,516.99 L530.4,513.56 L531.6,510.08 L532.8,506.58 L534.0,503.09 L535.2,499.64 L536.4,496.26 L537.6,492.97 L538.8,489.80 L540.0,486.79 L541.2,483.96 L542.4,481.33 L543.6,478.94 L544.8,476.81 L546.0,474.94 L547.2,473.30 L548.4,471.88 L549.6,470.67 L550.8,469.65 L552.0,468.79 L553.2,468.10 L554.4,467.54 L555.6,467.10 L556.8,466.78 L558.0,466.56 L559.2,466.43 L560.4,466.38 L561.6,466.39 L562.8,466.45 L564.0,466.55 L565.2,466.68 L566.4,466.82 L567.6,466.96 L568.8,467.09 L570.0,467.21 L571.2,467.33 L572.4,467.43 L573.6,467.53 L574.8,467.61 L576.0,467.67 L577.2,467.73 L578.4,467.77 L579.6,467.79 L580.8,467.80 L582.0,467.79 L583.2,467.76 L584.4,467.71 L585.6,467.65 L586.8,467.56 L588.0,467.45 L589.2,467.32 L590.4,467.17 L591.6,466.99 L592.8,466.79 L594.0,466.56 L595.2,466.31 L596.4,466.03 L597.6,465.72 L598.8,465.41 L600.0,465.12 L601.2,464.87 L602.4,464.69 L603.6,464.59 L604.8,464.61 L606.0,464.77 L607.2,465.08 L608.4,465.58 L609.6,466.28 L610.8,467.21 L612.0,468.35 L613.2,469.69 L614.4,471.17 L615.6,472.78 L616.8,474.48 L618.0,476.25 L619.2,478.04 L620.4,479.84 L621.6,481.64 L622.8,483.42 L624.0,485.18 L625.2,486.91 L626.4,488.59 L627.6,490.22 L628.8,491.79 L630.0,493.29 L631.2,494.70 L632.4,496.02 L633.6,497.24 L634.8,498.34 L636.0,499.31 L637.2,500.15 L638.4,500.84 L639.6,501.38 L640.8,501.75 L642.0,501.95 L643.2,501.95 L644.4,501.76 L645.6,501.36 L646.8,500.74 L648.0,499.91 L649.2,498.87 L650.4,497.64 L651.6,496.24 L652.8,494.69 L654.0,492.99 L655.2,491.17 L656.4,489.24 L657.6,487.21 L658.8,485.09 L660.0,482.88 L661.2,480.58 L662.4,478.19 L663.6,475.73 L664.8,473.19 L666.0,470.57 L667.2,467.88 L668.4,465.12 L669.6,462.30 L670.8,459.43 L672.0,456.54 L673.2,453.66 L674.4,450.81 L675.6,448.03 L676.8,445.35 L678.0,442.78 L679.2,440.36 L680.4,438.12 L681.6,436.08 L682.8,434.27 L684.0,432.72 L685.2,431.46 L686.4,430.52 L687.6,429.91 L688.8,429.68 L690.0,429.84 L691.2,430.39 L692.4,431.28 L693.6,432.45 L694.8,433.87 L696.0,435.47 L697.2,437.24 L698.4,439.18 L699.6,441.28 L700.8,443.57 L702.0,446.04 L703.2,448.70 L704.4,451.55 L705.6,454.57 L706.8,457.74 L708.0,461.02 L709.2,464.37 L710.4,467.77 L711.6,471.19 L712.8,474.59 L714.0,477.94 L715.2,481.22 L716.4,484.40 L717.6,487.43 L718.8,490.31 L720.0,492.98 L721.2,495.46 L722.4,497.76 L723.6,499.88 L724.8,501.83 L726.0,503.62 L727.2,505.27 L728.4,506.78 L729.6,508.17 L730.8,509.44 L732.0,510.61 L733.2,511.68 L734.4,512.67 L735.6,513.58 L736.8,514.43 L738.0,515.22 L739.2,515.97 L740.4,516.68 L741.6,517.37 L742.8,518.05 L744.0,518.72 L744.1,518.77" fill="none" stroke="#7eaa6c" stroke-width="2.3" stroke-linejoin="round" stroke-linecap="round"/>
<path d="M466.8,563.60 L468.0,563.40 L469.2,563.21 L470.4,563.03 L471.6,562.85 L472.8,562.68 L474.0,562.52 L475.2,562.36 L476.4,562.20 L477.6,562.04 L478.8,561.88 L480.0,561.72 L481.2,561.55 L482.4,561.39 L483.6,561.21 L484.8,561.03 L486.0,560.84 L487.2,560.64 L488.4,560.42 L489.6,560.20 L490.8,559.96 L492.0,559.70 L493.2,559.43 L494.4,559.14 L495.6,558.83 L496.8,558.50 L498.0,558.15 L499.2,557.77 L500.4,557.37 L501.6,556.95 L502.8,556.49 L504.0,556.00 L505.2,555.46 L506.4,554.86 L507.6,554.20 L508.8,553.46 L510.0,552.64 L511.2,551.73 L512.4,550.71 L513.6,549.58 L514.8,548.34 L516.0,546.96 L517.2,545.44 L518.4,543.77 L519.6,541.95 L520.8,539.96 L522.0,537.79 L523.2,535.43 L524.4,532.89 L525.6,530.17 L526.8,527.30 L528.0,524.31 L529.2,521.22 L530.4,518.07 L531.6,514.87 L532.8,511.66 L534.0,508.46 L535.2,505.29 L536.4,502.19 L537.6,499.18 L538.8,496.29 L540.0,493.54 L541.2,490.96 L542.4,488.57 L543.6,486.41 L544.8,484.49 L546.0,482.82 L547.2,481.36 L548.4,480.12 L549.6,479.08 L550.8,478.21 L552.0,477.50 L553.2,476.95 L554.4,476.53 L555.6,476.23 L556.8,476.06 L558.0,475.99 L559.2,476.02 L560.4,476.14 L561.6,476.33 L562.8,476.60 L564.0,476.94 L565.2,477.32 L566.4,477.74 L567.6,478.20 L568.8,478.69 L570.0,479.18 L571.2,479.69 L572.4,480.19 L573.6,480.67 L574.8,481.14 L576.0,481.57 L577.2,481.96 L578.4,482.30 L579.6,482.58 L580.8,482.79 L582.0,482.92 L583.2,482.97 L584.4,482.92 L585.6,482.76 L586.8,482.49 L588.0,482.09 L589.2,481.56 L590.4,480.89 L591.6,480.09 L592.8,479.19 L594.0,478.19 L595.2,477.12 L596.4,475.99 L597.6,474.83 L598.8,473.63 L600.0,472.43 L601.2,471.24 L602.4,470.10 L603.6,469.03 L604.8,468.06 L606.0,467.22 L607.2,466.53 L608.4,466.03 L609.6,465.74 L610.8,465.68 L612.0,465.87 L613.2,466.26 L614.4,466.85 L615.6,467.59 L616.8,468.49 L618.0,469.50 L619.2,470.61 L620.4,471.80 L621.6,473.04 L622.8,474.33 L624.0,475.64 L625.2,476.96 L626.4,478.26 L627.6,479.54 L628.8,480.77 L630.0,481.93 L631.2,483.02 L632.4,484.00 L633.6,484.87 L634.8,485.61 L636.0,486.19 L637.2,486.60 L638.4,486.83 L639.6,486.88 L640.8,486.74 L642.0,486.43 L643.2,485.95 L644.4,485.30 L645.6,484.51 L646.8,483.56 L648.0,482.47 L649.2,481.24 L650.4,479.88 L651.6,478.39 L652.8,476.79 L654.0,475.07 L655.2,473.25 L656.4,471.32 L657.6,469.30 L658.8,467.18 L660.0,464.95 L661.2,462.61 L662.4,460.16 L663.6,457.60 L664.8,454.91 L666.0,452.09 L667.2,449.14 L668.4,446.06 L669.6,442.84 L670.8,439.50 L672.0,436.09 L673.2,432.64 L674.4,429.18 L675.6,425.77 L676.8,422.43 L678.0,419.20 L679.2,416.13 L680.4,413.26 L681.6,410.62 L682.8,408.27 L684.0,406.25 L685.2,404.61 L686.4,403.39 L687.6,402.64 L688.8,402.41 L690.0,402.73 L691.2,403.62 L692.4,405.03 L693.6,406.92 L694.8,409.25 L696.0,411.99 L697.2,415.08 L698.4,418.50 L699.6,422.19 L700.8,426.12 L702.0,430.25 L703.2,434.54 L704.4,438.94 L705.6,443.43 L706.8,447.97 L708.0,452.53 L709.2,457.07 L710.4,461.56 L711.6,465.98 L712.8,470.28 L714.0,474.43 L715.2,478.41 L716.4,482.17 L717.6,485.70 L718.8,488.94 L720.0,491.88 L721.2,494.52 L722.4,496.89 L723.6,499.01 L724.8,500.90 L726.0,502.59 L727.2,504.11 L728.4,505.47 L729.6,506.70 L730.8,507.84 L732.0,508.89 L733.2,509.89 L734.4,510.86 L735.6,511.82 L736.8,512.80 L738.0,513.83 L739.2,514.92 L740.4,516.11 L741.6,517.42 L742.8,518.86 L744.0,520.47 L744.1,520.62" fill="none" stroke="#1f998b" stroke-width="2.3" stroke-linejoin="round" stroke-linecap="round"/>
<path d="M466.8,564.11 L468.0,563.60 L469.2,563.15 L470.4,562.76 L471.6,562.42 L472.8,562.12 L474.0,561.87 L475.2,561.66 L476.4,561.48 L477.6,561.34 L478.8,561.22 L480.0,561.12 L481.2,561.05 L482.4,560.98 L483.6,560.93 L484.8,560.88 L486.0,560.84 L487.2,560.79 L488.4,560.74 L489.6,560.67 L490.8,560.60 L492.0,560.50 L493.2,560.38 L494.4,560.23 L495.6,560.05 L496.8,559.84 L498.0,559.58 L499.2,559.29 L500.4,558.94 L501.6,558.54 L502.8,558.09 L504.0,557.57 L505.2,557.00 L506.4,556.35 L507.6,555.63 L508.8,554.83 L510.0,553.95 L511.2,552.99 L512.4,551.94 L513.6,550.79 L514.8,549.55 L516.0,548.20 L517.2,546.75 L518.4,545.19 L519.6,543.51 L520.8,541.71 L522.0,539.80 L523.2,537.75 L524.4,535.58 L525.6,533.29 L526.8,530.90 L528.0,528.44 L529.2,525.92 L530.4,523.35 L531.6,520.76 L532.8,518.17 L534.0,515.60 L535.2,513.06 L536.4,510.57 L537.6,508.16 L538.8,505.84 L540.0,503.62 L541.2,501.54 L542.4,499.60 L543.6,497.83 L544.8,496.24 L546.0,494.83 L547.2,493.58 L548.4,492.50 L549.6,491.57 L550.8,490.78 L552.0,490.12 L553.2,489.58 L554.4,489.15 L555.6,488.83 L556.8,488.60 L558.0,488.45 L559.2,488.39 L560.4,488.39 L561.6,488.45 L562.8,488.57 L564.0,488.73 L565.2,488.93 L566.4,489.15 L567.6,489.40 L568.8,489.65 L570.0,489.91 L571.2,490.16 L572.4,490.40 L573.6,490.61 L574.8,490.80 L576.0,490.95 L577.2,491.04 L578.4,491.09 L579.6,491.07 L580.8,490.97 L582.0,490.80 L583.2,490.54 L584.4,490.17 L585.6,489.71 L586.8,489.13 L588.0,488.42 L589.2,487.59 L590.4,486.62 L591.6,485.53 L592.8,484.32 L594.0,483.02 L595.2,481.63 L596.4,480.17 L597.6,478.65 L598.8,477.08 L600.0,475.48 L601.2,473.88 L602.4,472.31 L603.6,470.81 L604.8,469.41 L606.0,468.17 L607.2,467.11 L608.4,466.27 L609.6,465.70 L610.8,465.42 L612.0,465.44 L613.2,465.72 L614.4,466.25 L615.6,466.99 L616.8,467.92 L618.0,469.02 L619.2,470.25 L620.4,471.59 L621.6,473.01 L622.8,474.47 L624.0,475.95 L625.2,477.41 L626.4,478.83 L627.6,480.17 L628.8,481.41 L630.0,482.54 L631.2,483.54 L632.4,484.42 L633.6,485.16 L634.8,485.76 L636.0,486.22 L637.2,486.52 L638.4,486.65 L639.6,486.63 L640.8,486.45 L642.0,486.11 L643.2,485.62 L644.4,484.99 L645.6,484.21 L646.8,483.30 L648.0,482.25 L649.2,481.07 L650.4,479.76 L651.6,478.32 L652.8,476.77 L654.0,475.09 L655.2,473.31 L656.4,471.41 L657.6,469.41 L658.8,467.30 L660.0,465.07 L661.2,462.74 L662.4,460.28 L663.6,457.71 L664.8,455.01 L666.0,452.19 L667.2,449.24 L668.4,446.16 L669.6,442.94 L670.8,439.62 L672.0,436.22 L673.2,432.78 L674.4,429.33 L675.6,425.91 L676.8,422.55 L678.0,419.29 L679.2,416.16 L680.4,413.20 L681.6,410.46 L682.8,407.99 L684.0,405.86 L685.2,404.10 L686.4,402.78 L687.6,401.94 L688.8,401.64 L690.0,401.93 L691.2,402.81 L692.4,404.23 L693.6,406.17 L694.8,408.56 L696.0,411.36 L697.2,414.54 L698.4,418.04 L699.6,421.83 L700.8,425.85 L702.0,430.06 L703.2,434.43 L704.4,438.89 L705.6,443.43 L706.8,448.01 L708.0,452.59 L709.2,457.15 L710.4,461.65 L711.6,466.06 L712.8,470.36 L714.0,474.50 L715.2,478.47 L716.4,482.22 L717.6,485.72 L718.8,488.96 L720.0,491.88 L721.2,494.51 L722.4,496.87 L723.6,498.98 L724.8,500.87 L726.0,502.55 L727.2,504.06 L728.4,505.42 L729.6,506.66 L730.8,507.79 L732.0,508.85 L733.2,509.85 L734.4,510.82 L735.6,511.79 L736.8,512.78 L738.0,513.81 L739.2,514.91 L740.4,516.11 L741.6,517.42 L742.8,518.87 L744.0,520.49 L744.1,520.64" fill="none" stroke="#1f6d68" stroke-width="2.3" stroke-linejoin="round" stroke-linecap="round"/>
<path d="M466.8,565.00 L468.0,564.87 L469.2,564.72 L470.4,564.58 L471.6,564.43 L472.8,564.28 L474.0,564.13 L475.2,563.97 L476.4,563.80 L477.6,563.63 L478.8,563.46 L480.0,563.27 L481.2,563.08 L482.4,562.89 L483.6,562.68 L484.8,562.47 L486.0,562.25 L487.2,562.03 L488.4,561.79 L489.6,561.54 L490.8,561.29 L492.0,561.02 L493.2,560.75 L494.4,560.46 L495.6,560.16 L496.8,559.85 L498.0,559.53 L499.2,559.20 L500.4,558.85 L501.6,558.49 L502.8,558.12 L504.0,557.72 L505.2,557.30 L506.4,556.83 L507.6,556.32 L508.8,555.75 L510.0,555.11 L511.2,554.40 L512.4,553.62 L513.6,552.74 L514.8,551.76 L516.0,550.68 L517.2,549.48 L518.4,548.16 L519.6,546.71 L520.8,545.12 L522.0,543.38 L523.2,541.48 L524.4,539.42 L525.6,537.21 L526.8,534.88 L528.0,532.44 L529.2,529.92 L530.4,527.33 L531.6,524.71 L532.8,522.06 L534.0,519.42 L535.2,516.81 L536.4,514.24 L537.6,511.74 L538.8,509.33 L540.0,507.03 L541.2,504.87 L542.4,502.86 L543.6,501.03 L544.8,499.39 L546.0,497.95 L547.2,496.69 L548.4,495.60 L549.6,494.67 L550.8,493.89 L552.0,493.25 L553.2,492.73 L554.4,492.33 L555.6,492.04 L556.8,491.84 L558.0,491.74 L559.2,491.72 L560.4,491.77 L561.6,491.89 L562.8,492.06 L564.0,492.28 L565.2,492.54 L566.4,492.83 L567.6,493.15 L568.8,493.47 L570.0,493.80 L571.2,494.13 L572.4,494.43 L573.6,494.72 L574.8,494.96 L576.0,495.17 L577.2,495.31 L578.4,495.40 L579.6,495.41 L580.8,495.34 L582.0,495.17 L583.2,494.90 L584.4,494.52 L585.6,494.02 L586.8,493.39 L588.0,492.62 L589.2,491.69 L590.4,490.61 L591.6,489.39 L592.8,488.04 L594.0,486.57 L595.2,485.01 L596.4,483.36 L597.6,481.63 L598.8,479.85 L600.0,478.03 L601.2,476.20 L602.4,474.39 L603.6,472.64 L604.8,470.99 L606.0,469.48 L607.2,468.15 L608.4,467.03 L609.6,466.16 L610.8,465.57 L612.0,465.27 L613.2,465.23 L614.4,465.40 L615.6,465.77 L616.8,466.31 L618.0,466.97 L619.2,467.75 L620.4,468.60 L621.6,469.52 L622.8,470.49 L624.0,471.49 L625.2,472.50 L626.4,473.52 L627.6,474.52 L628.8,475.49 L630.0,476.41 L631.2,477.26 L632.4,478.04 L633.6,478.72 L634.8,479.30 L636.0,479.74 L637.2,480.04 L638.4,480.18 L639.6,480.17 L640.8,479.99 L642.0,479.67 L643.2,479.19 L644.4,478.57 L645.6,477.81 L646.8,476.91 L648.0,475.88 L649.2,474.71 L650.4,473.42 L651.6,472.01 L652.8,470.47 L654.0,468.83 L655.2,467.07 L656.4,465.20 L657.6,463.23 L658.8,461.15 L660.0,458.97 L661.2,456.69 L662.4,454.30 L663.6,451.81 L664.8,449.22 L666.0,446.53 L667.2,443.73 L668.4,440.84 L669.6,437.84 L670.8,434.77 L672.0,431.66 L673.2,428.55 L674.4,425.47 L675.6,422.46 L676.8,419.55 L678.0,416.78 L679.2,414.19 L680.4,411.81 L681.6,409.67 L682.8,407.81 L684.0,406.27 L685.2,405.07 L686.4,404.24 L687.6,403.82 L688.8,403.85 L690.0,404.34 L691.2,405.32 L692.4,406.74 L693.6,408.59 L694.8,410.83 L696.0,413.43 L697.2,416.37 L698.4,419.63 L699.6,423.16 L700.8,426.95 L702.0,430.96 L703.2,435.17 L704.4,439.55 L705.6,444.05 L706.8,448.62 L708.0,453.20 L709.2,457.73 L710.4,462.17 L711.6,466.46 L712.8,470.57 L714.0,474.46 L715.2,478.15 L716.4,481.60 L717.6,484.83 L718.8,487.80 L720.0,490.52 L721.2,492.99 L722.4,495.23 L723.6,497.26 L724.8,499.10 L726.0,500.77 L727.2,502.27 L728.4,503.64 L729.6,504.89 L730.8,506.03 L732.0,507.09 L733.2,508.09 L734.4,509.03 L735.6,509.95 L736.8,510.85 L738.0,511.75 L739.2,512.65 L740.4,513.58 L741.6,514.55 L742.8,515.56 L744.0,516.64 L744.1,516.73" fill="none" stroke="#1f4250" stroke-width="2.3" stroke-linejoin="round" stroke-linecap="round"/>
<line x1="558.4" y1="441" x2="558.4" y2="500" stroke="#000" stroke-width="2.8" stroke-dasharray="7,3.7"/>
<path d="M553.3,499.3 L563.5,499.3 L558.4,511 Z" fill="#000"/>
<line x1="610.4" y1="506.7" x2="610.4" y2="452" stroke="#000" stroke-width="2.8" stroke-dasharray="7,3.7"/>
<path d="M605.2,451.4 L615.6,451.4 L610.4,440.5 Z" fill="#000"/>
<line x1="689.7" y1="466" x2="689.7" y2="397" stroke="#000" stroke-width="2.8" stroke-dasharray="7,3.7"/>
<path d="M684.5,396.1 L694.9,396.1 L689.7,385.6 Z" fill="#000"/>
<text transform="translate(540.40,388.50) scale(0.89,1)" font-size="11.8" font-weight="bold" font-style="italic" text-anchor="start" fill="#000" stroke="#000" stroke-width="0.35" >&#965;(COOH)</text>
<text transform="translate(540.40,400.50) scale(0.89,1)" font-size="11.8" font-weight="bold" font-style="italic" text-anchor="start" fill="#000" stroke="#000" stroke-width="0.35" >(Free)</text>
<text transform="translate(585.30,419.10) scale(0.89,1)" font-size="11.8" font-weight="bold" font-style="italic" text-anchor="start" fill="#000" stroke="#000" stroke-width="0.35" >&#965;(COOH)</text>
<text transform="translate(585.30,432.00) scale(0.89,1)" font-size="11.8" font-weight="bold" font-style="italic" text-anchor="start" fill="#000" stroke="#000" stroke-width="0.35" >(H-Bonded)</text>
<text transform="translate(669.3,373.2) scale(0.91,1)" font-size="11.8" font-weight="bold" font-style="italic">&#965;(COO<tspan dy="-4" font-size="8">-</tspan><tspan dy="4">)</tspan></text>
<line x1="472.3" y1="358.5" x2="503.4" y2="358.5" stroke="#e3603a" stroke-width="2.3" stroke-linecap="round"/>
<text transform="translate(507.20,363.10) scale(1.0,1)" font-size="14" font-weight="normal" font-style="normal" text-anchor="start" fill="#111" >0 M</text>
<line x1="472.3" y1="375.4" x2="503.4" y2="375.4" stroke="#f29550" stroke-width="2.3" stroke-linecap="round"/>
<text transform="translate(507.20,380.00) scale(1.0,1)" font-size="14" font-weight="normal" font-style="normal" text-anchor="start" fill="#111" >1 M</text>
<line x1="472.3" y1="392.3" x2="503.4" y2="392.3" stroke="#e8bf58" stroke-width="2.3" stroke-linecap="round"/>
<text transform="translate(507.20,396.90) scale(1.0,1)" font-size="14" font-weight="normal" font-style="normal" text-anchor="start" fill="#111" >2 M</text>
<line x1="472.3" y1="408.8" x2="503.4" y2="408.8" stroke="#7eaa6c" stroke-width="2.3" stroke-linecap="round"/>
<text transform="translate(507.20,413.40) scale(1.0,1)" font-size="14" font-weight="normal" font-style="normal" text-anchor="start" fill="#111" >3 M</text>
<line x1="472.3" y1="425.7" x2="503.4" y2="425.7" stroke="#1f998b" stroke-width="2.3" stroke-linecap="round"/>
<text transform="translate(507.20,430.30) scale(1.0,1)" font-size="14" font-weight="normal" font-style="normal" text-anchor="start" fill="#111" >4 M</text>
<line x1="472.3" y1="442.6" x2="503.4" y2="442.6" stroke="#1f6d68" stroke-width="2.3" stroke-linecap="round"/>
<text transform="translate(507.20,447.20) scale(1.0,1)" font-size="14" font-weight="normal" font-style="normal" text-anchor="start" fill="#111" >5 M</text>
<line x1="472.3" y1="459.5" x2="503.4" y2="459.5" stroke="#1f4250" stroke-width="2.3" stroke-linecap="round"/>
<text transform="translate(507.20,464.10) scale(1.0,1)" font-size="14" font-weight="normal" font-style="normal" text-anchor="start" fill="#111" >6 M</text>
<rect x="466.9" y="347" width="277.30000000000007" height="220.60000000000002" fill="none" stroke="#000" stroke-width="2.8"/>
<text transform="translate(761.00,351.30) scale(1,1)" font-size="29" font-weight="bold" font-style="normal" text-anchor="start" fill="#000" stroke="#000" stroke-width="0.35" >f</text>
<path d="M852.3,545.60 L853.3,545.42 L854.3,545.25 L855.3,545.09 L856.3,544.93 L857.3,544.78 L858.3,544.64 L859.3,544.50 L860.3,544.37 L861.3,544.24 L862.3,544.11 L863.3,543.99 L864.3,543.87 L865.3,543.76 L866.3,543.64 L867.3,543.53 L868.3,543.41 L869.3,543.30 L870.3,543.19 L871.3,543.08 L872.3,542.96 L873.3,542.85 L874.3,542.73 L875.3,542.61 L876.3,542.48 L877.3,542.36 L878.3,542.23 L879.3,542.09 L880.3,541.95 L881.3,541.80 L882.3,541.65 L883.3,541.49 L884.3,541.32 L885.3,541.15 L886.3,540.97 L887.3,540.77 L888.3,540.57 L889.3,540.36 L890.3,540.14 L891.3,539.91 L892.3,539.67 L893.3,539.42 L894.3,539.15 L895.3,538.87 L896.3,538.58 L897.3,538.28 L898.3,537.96 L899.3,537.62 L900.3,537.27 L901.3,536.91 L902.3,536.53 L903.3,536.13 L904.3,535.72 L905.3,535.28 L906.3,534.83 L907.3,534.36 L908.3,533.87 L909.3,533.37 L910.3,532.84 L911.3,532.29 L912.3,531.72 L913.3,531.11 L914.3,530.43 L915.3,529.66 L916.3,528.76 L917.3,527.70 L918.3,526.46 L919.3,525.01 L920.3,523.32 L921.3,521.36 L922.3,519.10 L923.3,516.53 L924.3,513.70 L925.3,510.67 L926.3,507.48 L927.3,504.18 L928.3,500.84 L929.3,497.47 L930.3,494.02 L931.3,490.38 L932.3,486.48 L933.3,482.21 L934.3,477.50 L935.3,472.26 L936.3,466.47 L937.3,460.17 L938.3,453.39 L939.3,446.15 L940.3,438.49 L941.3,430.47 L942.3,422.35 L943.3,414.48 L944.3,407.18 L945.3,400.68 L946.3,394.97 L947.3,389.96 L948.3,385.56 L949.3,381.70 L950.3,378.30 L951.3,375.28 L952.3,372.62 L953.3,370.30 L954.3,368.31 L955.3,366.65 L956.3,365.29 L957.3,364.23 L958.3,363.44 L959.3,362.93 L960.3,362.68 L961.3,362.67 L962.3,362.90 L963.3,363.34 L964.3,364.01 L965.3,364.87 L966.3,365.94 L967.3,367.19 L968.3,368.62 L969.3,370.22 L970.3,371.98 L971.3,373.90 L972.3,375.96 L973.3,378.16 L974.3,380.48 L975.3,382.93 L976.3,385.48 L977.3,388.14 L978.3,390.89 L979.3,393.72 L980.3,396.64 L981.3,399.61 L982.3,402.65 L983.3,405.74 L984.3,408.87 L985.3,412.03 L986.3,415.23 L987.3,418.45 L988.3,421.69 L989.3,424.95 L990.3,428.23 L991.3,431.52 L992.3,434.81 L993.3,438.10 L994.3,441.39 L995.3,444.67 L996.3,447.93 L997.3,451.19 L998.3,454.42 L999.3,457.62 L1000.3,460.80 L1001.3,463.94 L1002.3,467.05 L1003.3,470.11 L1004.3,473.13 L1005.3,476.10 L1006.3,479.01 L1007.3,481.86 L1008.3,484.65 L1009.3,487.38 L1010.3,490.03 L1011.3,492.60 L1012.3,495.09 L1013.3,497.50 L1014.3,499.82 L1015.3,502.06 L1016.3,504.21 L1017.3,506.28 L1018.3,508.26 L1019.3,510.17 L1020.3,512.01 L1021.3,513.77 L1022.3,515.45 L1023.3,517.06 L1024.3,518.61 L1025.3,520.08 L1026.3,521.49 L1027.3,522.83 L1028.3,524.11 L1029.3,525.33 L1030.3,526.49 L1031.3,527.59 L1032.3,528.64 L1033.3,529.63 L1034.3,530.57 L1035.3,531.46 L1036.3,532.30 L1037.3,533.09 L1038.3,533.84 L1039.3,534.54 L1040.3,535.20 L1041.3,535.82 L1042.3,536.41 L1043.3,536.95 L1044.3,537.46 L1045.3,537.94 L1046.3,538.39 L1047.3,538.80 L1048.3,539.19 L1049.3,539.55 L1050.3,539.89 L1051.3,540.20 L1052.3,540.50 L1053.3,540.77 L1054.3,541.03 L1055.3,541.27 L1056.3,541.50 L1057.3,541.71 L1058.3,541.91 L1059.3,542.11 L1060.3,542.30 L1061.3,542.48 L1062.3,542.66 L1063.3,542.84 L1064.3,543.01 L1065.3,543.19 L1066.3,543.37 L1067.3,543.56 L1068.3,543.76 L1069.3,543.96 L1070.3,544.17 L1071.3,544.40 L1072.3,544.64 L1073.3,544.89 L1074.3,545.16 L1075.3,545.46 L1075.6,545.55 L1075.6,548 L852.3,548 Z" fill="url(#gd)" opacity="0.95"/>
<path d="M852.9,456.60 L853.9,450.76 L854.9,444.84 L855.9,438.88 L856.9,432.93 L857.9,427.02 L858.9,421.20 L859.9,415.50 L860.9,409.96 L861.9,404.63 L862.9,399.54 L863.9,394.74 L864.9,390.26 L865.9,386.15 L866.9,382.43 L867.9,379.08 L868.9,376.10 L869.9,373.47 L870.9,371.16 L871.9,369.16 L872.9,367.45 L873.9,366.01 L874.9,364.83 L875.9,363.88 L876.9,363.16 L877.9,362.64 L878.9,362.32 L879.9,362.20 L880.9,362.27 L881.9,362.52 L882.9,362.95 L883.9,363.55 L884.9,364.32 L885.9,365.25 L886.9,366.33 L887.9,367.55 L888.9,368.92 L889.9,370.42 L890.9,372.05 L891.9,373.80 L892.9,375.67 L893.9,377.65 L894.9,379.74 L895.9,381.92 L896.9,384.20 L897.9,386.56 L898.9,389.00 L899.9,391.51 L900.9,394.09 L901.9,396.73 L902.9,399.43 L903.9,402.18 L904.9,404.97 L905.9,407.80 L906.9,410.66 L907.9,413.54 L908.9,416.45 L909.9,419.36 L910.9,422.28 L911.9,425.21 L912.9,428.12 L913.9,431.03 L914.9,433.92 L915.9,436.78 L916.9,439.62 L917.9,442.41 L918.9,445.17 L919.9,447.88 L920.9,450.56 L921.9,453.19 L922.9,455.77 L923.9,458.32 L924.9,460.82 L925.9,463.28 L926.9,465.69 L927.9,468.07 L928.9,470.40 L929.9,472.68 L930.9,474.93 L931.9,477.13 L932.9,479.28 L933.9,481.40 L934.9,483.47 L935.9,485.49 L936.9,487.48 L937.9,489.42 L938.9,491.31 L939.9,493.16 L940.9,494.97 L941.9,496.74 L942.9,498.46 L943.9,500.13 L944.9,501.76 L945.9,503.35 L946.9,504.89 L947.9,506.39 L948.9,507.84 L949.9,509.25 L950.9,510.62 L951.9,511.94 L952.9,513.21 L953.9,514.45 L954.9,515.64 L955.9,516.80 L956.9,517.91 L957.9,518.99 L958.9,520.03 L959.9,521.03 L960.9,522.00 L961.9,522.93 L962.9,523.83 L963.9,524.70 L964.9,525.54 L965.9,526.35 L966.9,527.13 L967.9,527.88 L968.9,528.61 L969.9,529.31 L970.9,529.99 L971.9,530.64 L972.9,531.27 L973.9,531.87 L974.9,532.46 L975.9,533.02 L976.9,533.56 L977.9,534.09 L978.9,534.59 L979.9,535.07 L980.9,535.53 L981.9,535.98 L982.9,536.40 L983.9,536.81 L984.9,537.20 L985.9,537.57 L986.9,537.93 L987.9,538.27 L988.9,538.59 L989.9,538.90 L990.9,539.20 L991.9,539.48 L992.9,539.75 L993.9,540.00 L994.9,540.24 L995.9,540.47 L996.9,540.69 L997.9,540.89 L998.9,541.09 L999.9,541.27 L1000.9,541.44 L1001.9,541.61 L1002.9,541.76 L1003.9,541.91 L1004.9,542.04 L1005.9,542.17 L1006.9,542.29 L1007.9,542.41 L1008.9,542.52 L1009.9,542.62 L1010.9,542.72 L1011.9,542.81 L1012.9,542.89 L1013.9,542.98 L1014.9,543.06 L1015.9,543.13 L1016.9,543.20 L1017.9,543.27 L1018.9,543.34 L1019.9,543.41 L1020.9,543.47 L1021.9,543.54 L1022.9,543.60 L1023.9,543.67 L1024.9,543.74 L1025.9,543.80 L1026.9,543.87 L1027.9,543.94 L1028.9,544.00 L1029.9,544.07 L1030.9,544.14 L1031.9,544.20 L1032.9,544.27 L1033.9,544.33 L1034.9,544.40 L1035.9,544.46 L1036.9,544.53 L1037.9,544.59 L1038.9,544.65 L1039.9,544.71 L1040.9,544.77 L1041.9,544.83 L1042.9,544.89 L1043.9,544.95 L1044.9,545.00 L1045.9,545.05 L1046.9,545.10 L1047.9,545.15 L1048.9,545.20 L1049.9,545.24 L1050.9,545.28 L1051.9,545.32 L1052.9,545.36 L1053.9,545.39 L1054.9,545.43 L1055.9,545.46 L1056.9,545.48 L1057.9,545.50 L1058.9,545.52 L1059.9,545.54 L1060.9,545.55 L1061.9,545.56 L1062.9,545.57 L1063.9,545.57 L1064.9,545.57 L1065.9,545.57 L1066.9,545.56 L1067.9,545.55 L1068.9,545.53 L1069.9,545.51 L1070.9,545.48 L1071.9,545.45 L1072.9,545.41 L1073.9,545.37 L1074.9,545.33 L1075.6,545.30 L1075.6,548 L852.9,548 Z" fill="url(#gp)" opacity="0.85"/>
<path d="M852.3,545.60 L853.3,545.42 L854.3,545.25 L855.3,545.09 L856.3,544.93 L857.3,544.78 L858.3,544.64 L859.3,544.50 L860.3,544.37 L861.3,544.24 L862.3,544.11 L863.3,543.99 L864.3,543.87 L865.3,543.76 L866.3,543.64 L867.3,543.53 L868.3,543.41 L869.3,543.30 L870.3,543.19 L871.3,543.08 L872.3,542.96 L873.3,542.85 L874.3,542.73 L875.3,542.61 L876.3,542.48 L877.3,542.36 L878.3,542.23 L879.3,542.09 L880.3,541.95 L881.3,541.80 L882.3,541.65 L883.3,541.49 L884.3,541.32 L885.3,541.15 L886.3,540.97 L887.3,540.77 L888.3,540.57 L889.3,540.36 L890.3,540.14 L891.3,539.91 L892.3,539.67 L893.3,539.42 L894.3,539.15 L895.3,538.87 L896.3,538.58 L897.3,538.28 L898.3,537.96 L899.3,537.62 L900.3,537.27 L901.3,536.91 L902.3,536.53 L903.3,536.13 L904.3,535.72 L905.3,535.28 L906.3,534.83 L907.3,534.36 L908.3,533.87 L909.3,533.37 L910.3,532.84 L911.3,532.29 L912.3,531.72 L913.3,531.11 L914.3,530.43 L915.3,529.66 L916.3,528.76 L917.3,527.70 L918.3,526.46 L919.3,525.01 L920.3,523.32 L921.3,521.36 L922.3,519.10 L923.3,516.53 L924.3,513.70 L925.3,510.67 L926.3,507.48 L927.3,504.18 L928.3,500.84 L929.3,497.47 L930.3,494.02 L931.3,490.38 L932.3,486.48 L933.3,482.21 L934.3,477.50 L935.3,472.26 L936.3,466.47 L937.3,460.17 L938.3,453.39 L939.3,446.15 L940.3,438.49 L941.3,430.47 L942.3,422.35 L943.3,414.48 L944.3,407.18 L945.3,400.68 L946.3,394.97 L947.3,389.96 L948.3,385.56 L949.3,381.70 L950.3,378.30 L951.3,375.28 L952.3,372.62 L953.3,370.30 L954.3,368.31 L955.3,366.65 L956.3,365.29 L957.3,364.23 L958.3,363.44 L959.3,362.93 L960.3,362.68 L961.3,362.67 L962.3,362.90 L963.3,363.34 L964.3,364.01 L965.3,364.87 L966.3,365.94 L967.3,367.19 L968.3,368.62 L969.3,370.22 L970.3,371.98 L971.3,373.90 L972.3,375.96 L973.3,378.16 L974.3,380.48 L975.3,382.93 L976.3,385.48 L977.3,388.14 L978.3,390.89 L979.3,393.72 L980.3,396.64 L981.3,399.61 L982.3,402.65 L983.3,405.74 L984.3,408.87 L985.3,412.03 L986.3,415.23 L987.3,418.45 L988.3,421.69 L989.3,424.95 L990.3,428.23 L991.3,431.52 L992.3,434.81 L993.3,438.10 L994.3,441.39 L995.3,444.67 L996.3,447.93 L997.3,451.19 L998.3,454.42 L999.3,457.62 L1000.3,460.80 L1001.3,463.94 L1002.3,467.05 L1003.3,470.11 L1004.3,473.13 L1005.3,476.10 L1006.3,479.01 L1007.3,481.86 L1008.3,484.65 L1009.3,487.38 L1010.3,490.03 L1011.3,492.60 L1012.3,495.09 L1013.3,497.50 L1014.3,499.82 L1015.3,502.06 L1016.3,504.21 L1017.3,506.28 L1018.3,508.26 L1019.3,510.17 L1020.3,512.01 L1021.3,513.77 L1022.3,515.45 L1023.3,517.06 L1024.3,518.61 L1025.3,520.08 L1026.3,521.49 L1027.3,522.83 L1028.3,524.11 L1029.3,525.33 L1030.3,526.49 L1031.3,527.59 L1032.3,528.64 L1033.3,529.63 L1034.3,530.57 L1035.3,531.46 L1036.3,532.30 L1037.3,533.09 L1038.3,533.84 L1039.3,534.54 L1040.3,535.20 L1041.3,535.82 L1042.3,536.41 L1043.3,536.95 L1044.3,537.46 L1045.3,537.94 L1046.3,538.39 L1047.3,538.80 L1048.3,539.19 L1049.3,539.55 L1050.3,539.89 L1051.3,540.20 L1052.3,540.50 L1053.3,540.77 L1054.3,541.03 L1055.3,541.27 L1056.3,541.50 L1057.3,541.71 L1058.3,541.91 L1059.3,542.11 L1060.3,542.30 L1061.3,542.48 L1062.3,542.66 L1063.3,542.84 L1064.3,543.01 L1065.3,543.19 L1066.3,543.37 L1067.3,543.56 L1068.3,543.76 L1069.3,543.96 L1070.3,544.17 L1071.3,544.40 L1072.3,544.64 L1073.3,544.89 L1074.3,545.16 L1075.3,545.46 L1075.6,545.55" fill="none" stroke="#c5e5c5" stroke-width="2" stroke-linejoin="round"/>
<path d="M852.9,456.60 L853.9,450.76 L854.9,444.84 L855.9,438.88 L856.9,432.93 L857.9,427.02 L858.9,421.20 L859.9,415.50 L860.9,409.96 L861.9,404.63 L862.9,399.54 L863.9,394.74 L864.9,390.26 L865.9,386.15 L866.9,382.43 L867.9,379.08 L868.9,376.10 L869.9,373.47 L870.9,371.16 L871.9,369.16 L872.9,367.45 L873.9,366.01 L874.9,364.83 L875.9,363.88 L876.9,363.16 L877.9,362.64 L878.9,362.32 L879.9,362.20 L880.9,362.27 L881.9,362.52 L882.9,362.95 L883.9,363.55 L884.9,364.32 L885.9,365.25 L886.9,366.33 L887.9,367.55 L888.9,368.92 L889.9,370.42 L890.9,372.05 L891.9,373.80 L892.9,375.67 L893.9,377.65 L894.9,379.74 L895.9,381.92 L896.9,384.20 L897.9,386.56 L898.9,389.00 L899.9,391.51 L900.9,394.09 L901.9,396.73 L902.9,399.43 L903.9,402.18 L904.9,404.97 L905.9,407.80 L906.9,410.66 L907.9,413.54 L908.9,416.45 L909.9,419.36 L910.9,422.28 L911.9,425.21 L912.9,428.12 L913.9,431.03 L914.9,433.92 L915.9,436.78 L916.9,439.62 L917.9,442.41 L918.9,445.17 L919.9,447.88 L920.9,450.56 L921.9,453.19 L922.9,455.77 L923.9,458.32 L924.9,460.82 L925.9,463.28 L926.9,465.69 L927.9,468.07 L928.9,470.40 L929.9,472.68 L930.9,474.93 L931.9,477.13 L932.9,479.28 L933.9,481.40 L934.9,483.47 L935.9,485.49 L936.9,487.48 L937.9,489.42 L938.9,491.31 L939.9,493.16 L940.9,494.97 L941.9,496.74 L942.9,498.46 L943.9,500.13 L944.9,501.76 L945.9,503.35 L946.9,504.89 L947.9,506.39 L948.9,507.84 L949.9,509.25 L950.9,510.62 L951.9,511.94 L952.9,513.21 L953.9,514.45 L954.9,515.64 L955.9,516.80 L956.9,517.91 L957.9,518.99 L958.9,520.03 L959.9,521.03 L960.9,522.00 L961.9,522.93 L962.9,523.83 L963.9,524.70 L964.9,525.54 L965.9,526.35 L966.9,527.13 L967.9,527.88 L968.9,528.61 L969.9,529.31 L970.9,529.99 L971.9,530.64 L972.9,531.27 L973.9,531.87 L974.9,532.46 L975.9,533.02 L976.9,533.56 L977.9,534.09 L978.9,534.59 L979.9,535.07 L980.9,535.53 L981.9,535.98 L982.9,536.40 L983.9,536.81 L984.9,537.20 L985.9,537.57 L986.9,537.93 L987.9,538.27 L988.9,538.59 L989.9,538.90 L990.9,539.20 L991.9,539.48 L992.9,539.75 L993.9,540.00 L994.9,540.24 L995.9,540.47 L996.9,540.69 L997.9,540.89 L998.9,541.09 L999.9,541.27 L1000.9,541.44 L1001.9,541.61 L1002.9,541.76 L1003.9,541.91 L1004.9,542.04 L1005.9,542.17 L1006.9,542.29 L1007.9,542.41 L1008.9,542.52 L1009.9,542.62 L1010.9,542.72 L1011.9,542.81 L1012.9,542.89 L1013.9,542.98 L1014.9,543.06 L1015.9,543.13 L1016.9,543.20 L1017.9,543.27 L1018.9,543.34 L1019.9,543.41 L1020.9,543.47 L1021.9,543.54 L1022.9,543.60 L1023.9,543.67 L1024.9,543.74 L1025.9,543.80 L1026.9,543.87 L1027.9,543.94 L1028.9,544.00 L1029.9,544.07 L1030.9,544.14 L1031.9,544.20 L1032.9,544.27 L1033.9,544.33 L1034.9,544.40 L1035.9,544.46 L1036.9,544.53 L1037.9,544.59 L1038.9,544.65 L1039.9,544.71 L1040.9,544.77 L1041.9,544.83 L1042.9,544.89 L1043.9,544.95 L1044.9,545.00 L1045.9,545.05 L1046.9,545.10 L1047.9,545.15 L1048.9,545.20 L1049.9,545.24 L1050.9,545.28 L1051.9,545.32 L1052.9,545.36 L1053.9,545.39 L1054.9,545.43 L1055.9,545.46 L1056.9,545.48 L1057.9,545.50 L1058.9,545.52 L1059.9,545.54 L1060.9,545.55 L1061.9,545.56 L1062.9,545.57 L1063.9,545.57 L1064.9,545.57 L1065.9,545.57 L1066.9,545.56 L1067.9,545.55 L1068.9,545.53 L1069.9,545.51 L1070.9,545.48 L1071.9,545.45 L1072.9,545.41 L1073.9,545.37 L1074.9,545.33 L1075.6,545.30" fill="none" stroke="#5560f0" stroke-width="2.6" stroke-linejoin="round" stroke-linecap="round"/>
<line x1="867.0" y1="569.6" x2="867.0" y2="574.1" stroke="#000" stroke-width="2"/>
<line x1="936.5" y1="569.6" x2="936.5" y2="574.1" stroke="#000" stroke-width="2"/>
<line x1="1006.1" y1="569.6" x2="1006.1" y2="574.1" stroke="#000" stroke-width="2"/>
<line x1="1075.6" y1="569.6" x2="1075.6" y2="574.1" stroke="#000" stroke-width="2"/>
<line x1="832.2" y1="569.6" x2="832.2" y2="572.1" stroke="#000" stroke-width="2"/>
<line x1="901.8" y1="569.6" x2="901.8" y2="572.1" stroke="#000" stroke-width="2"/>
<line x1="971.3" y1="569.6" x2="971.3" y2="572.1" stroke="#000" stroke-width="2"/>
<line x1="1040.8" y1="569.6" x2="1040.8" y2="572.1" stroke="#000" stroke-width="2"/>
<line x1="1110.4" y1="569.6" x2="1110.4" y2="572.1" stroke="#000" stroke-width="2"/>
<line x1="832.6" y1="548.4" x2="828.1" y2="548.4" stroke="#000" stroke-width="2"/>
<line x1="832.6" y1="511.2" x2="828.1" y2="511.2" stroke="#000" stroke-width="2"/>
<line x1="832.6" y1="474.1" x2="828.1" y2="474.1" stroke="#000" stroke-width="2"/>
<line x1="832.6" y1="436.9" x2="828.1" y2="436.9" stroke="#000" stroke-width="2"/>
<line x1="832.6" y1="399.8" x2="828.1" y2="399.8" stroke="#000" stroke-width="2"/>
<line x1="832.6" y1="362.6" x2="828.1" y2="362.6" stroke="#000" stroke-width="2"/>
<line x1="832.6" y1="567.0" x2="830.1" y2="567.0" stroke="#000" stroke-width="2"/>
<line x1="832.6" y1="529.8" x2="830.1" y2="529.8" stroke="#000" stroke-width="2"/>
<line x1="832.6" y1="492.7" x2="830.1" y2="492.7" stroke="#000" stroke-width="2"/>
<line x1="832.6" y1="455.5" x2="830.1" y2="455.5" stroke="#000" stroke-width="2"/>
<line x1="832.6" y1="418.3" x2="830.1" y2="418.3" stroke="#000" stroke-width="2"/>
<line x1="832.6" y1="381.2" x2="830.1" y2="381.2" stroke="#000" stroke-width="2"/>
<text transform="translate(827.50,554.70) scale(0.935,1)" font-size="20.3" font-weight="bold" font-style="normal" text-anchor="end" fill="#000" stroke="#000" stroke-width="0.35" >0.0</text>
<text transform="translate(827.50,517.54) scale(0.935,1)" font-size="20.3" font-weight="bold" font-style="normal" text-anchor="end" fill="#000" stroke="#000" stroke-width="0.35" >0.2</text>
<text transform="translate(827.50,480.38) scale(0.935,1)" font-size="20.3" font-weight="bold" font-style="normal" text-anchor="end" fill="#000" stroke="#000" stroke-width="0.35" >0.4</text>
<text transform="translate(827.50,443.22) scale(0.935,1)" font-size="20.3" font-weight="bold" font-style="normal" text-anchor="end" fill="#000" stroke="#000" stroke-width="0.35" >0.6</text>
<text transform="translate(827.50,406.06) scale(0.935,1)" font-size="20.3" font-weight="bold" font-style="normal" text-anchor="end" fill="#000" stroke="#000" stroke-width="0.35" >0.8</text>
<text transform="translate(827.50,368.90) scale(0.935,1)" font-size="20.3" font-weight="bold" font-style="normal" text-anchor="end" fill="#000" stroke="#000" stroke-width="0.35" >1.0</text>
<text transform="translate(867.00,591.00) scale(0.935,1)" font-size="20.3" font-weight="bold" font-style="normal" text-anchor="middle" fill="#000" stroke="#000" stroke-width="0.35" >400</text>
<text transform="translate(936.53,591.00) scale(0.935,1)" font-size="20.3" font-weight="bold" font-style="normal" text-anchor="middle" fill="#000" stroke="#000" stroke-width="0.35" >500</text>
<text transform="translate(1006.06,591.00) scale(0.935,1)" font-size="20.3" font-weight="bold" font-style="normal" text-anchor="middle" fill="#000" stroke="#000" stroke-width="0.35" >600</text>
<text transform="translate(1075.59,591.00) scale(0.935,1)" font-size="20.3" font-weight="bold" font-style="normal" text-anchor="middle" fill="#000" stroke="#000" stroke-width="0.35" >700</text>
<text transform="translate(893,606) scale(0.935,1)" font-size="20.3" font-weight="bold" stroke="#000" stroke-width="0.35" xml:space="preserve">Wavelength <tspan font-size="17.8">(nm)</tspan></text>
<text transform="translate(793.2,455.5) rotate(-90) scale(0.935,1)" x="0" y="0" font-size="20.3" font-weight="bold" text-anchor="middle" fill="#000" stroke="#000" stroke-width="0.35" xml:space="preserve">Normalized  Intensity</text>
<rect x="1000" y="354.5" width="33.5" height="16.5" fill="url(#gpl)" stroke="#5560f0" stroke-width="2"/>
<rect x="1000" y="376" width="33.5" height="16" fill="url(#gdl)" stroke="#c5e5c5" stroke-width="2"/>
<text transform="translate(1042.40,368.80) scale(1.0,1)" font-size="16.8" font-weight="normal" font-style="normal" text-anchor="start" fill="#3038e8" >Prompt</text>
<text transform="translate(1042.40,389.30) scale(1.0,1)" font-size="16.8" font-weight="normal" font-style="normal" text-anchor="start" fill="#b5dcb5" >Delayed</text>
<rect x="832.6" y="343.8" width="278.19999999999993" height="225.8" fill="none" stroke="#000" stroke-width="2.8"/>
<text transform="translate(24.50,639.00) scale(1,1)" font-size="29" font-weight="bold" font-style="normal" text-anchor="start" fill="#000" stroke="#000" stroke-width="0.35" >g</text>
<line x1="103.7" y1="879.3" x2="103.7" y2="883.8" stroke="#000" stroke-width="2"/>
<line x1="148.0" y1="879.3" x2="148.0" y2="883.8" stroke="#000" stroke-width="2"/>
<line x1="192.3" y1="879.3" x2="192.3" y2="883.8" stroke="#000" stroke-width="2"/>
<line x1="236.6" y1="879.3" x2="236.6" y2="883.8" stroke="#000" stroke-width="2"/>
<line x1="280.8" y1="879.3" x2="280.8" y2="883.8" stroke="#000" stroke-width="2"/>
<line x1="325.1" y1="879.3" x2="325.1" y2="883.8" stroke="#000" stroke-width="2"/>
<line x1="369.4" y1="879.3" x2="369.4" y2="883.8" stroke="#000" stroke-width="2"/>
<line x1="125.8" y1="879.3" x2="125.8" y2="881.8" stroke="#000" stroke-width="2"/>
<line x1="170.1" y1="879.3" x2="170.1" y2="881.8" stroke="#000" stroke-width="2"/>
<line x1="214.4" y1="879.3" x2="214.4" y2="881.8" stroke="#000" stroke-width="2"/>
<line x1="258.7" y1="879.3" x2="258.7" y2="881.8" stroke="#000" stroke-width="2"/>
<line x1="303.0" y1="879.3" x2="303.0" y2="881.8" stroke="#000" stroke-width="2"/>
<line x1="347.3" y1="879.3" x2="347.3" y2="881.8" stroke="#000" stroke-width="2"/>
<text transform="translate(103.70,902.40) scale(0.935,1)" font-size="20.3" font-weight="bold" font-style="normal" text-anchor="middle" fill="#000" stroke="#000" stroke-width="0.35" >400</text>
<text transform="translate(147.99,902.40) scale(0.935,1)" font-size="20.3" font-weight="bold" font-style="normal" text-anchor="middle" fill="#000" stroke="#000" stroke-width="0.35" >450</text>
<text transform="translate(192.27,902.40) scale(0.935,1)" font-size="20.3" font-weight="bold" font-style="normal" text-anchor="middle" fill="#000" stroke="#000" stroke-width="0.35" >500</text>
<text transform="translate(236.56,902.40) scale(0.935,1)" font-size="20.3" font-weight="bold" font-style="normal" text-anchor="middle" fill="#000" stroke="#000" stroke-width="0.35" >550</text>
<text transform="translate(280.84,902.40) scale(0.935,1)" font-size="20.3" font-weight="bold" font-style="normal" text-anchor="middle" fill="#000" stroke="#000" stroke-width="0.35" >600</text>
<text transform="translate(325.12,902.40) scale(0.935,1)" font-size="20.3" font-weight="bold" font-style="normal" text-anchor="middle" fill="#000" stroke="#000" stroke-width="0.35" >650</text>
<text transform="translate(369.41,902.40) scale(0.935,1)" font-size="20.3" font-weight="bold" font-style="normal" text-anchor="middle" fill="#000" stroke="#000" stroke-width="0.35" >700</text>
<text transform="translate(231.00,927.30) scale(0.935,1)" font-size="20.3" font-weight="bold" font-style="normal" text-anchor="middle" fill="#000" stroke="#000" stroke-width="0.35" >Wavelength (nm)</text>
<text transform="translate(81,768.3) rotate(-90) scale(0.935,1)" x="0" y="0" font-size="20.3" font-weight="bold" text-anchor="middle" fill="#000" stroke="#000" stroke-width="0.35" xml:space="preserve">Intensity (a.u.)</text>
<path d="M92.5,851.5 C102.1,851.6 132.1,851.9 150.0,852.0 C167.9,852.1 183.3,852.3 200.0,852.4 C216.7,852.5 233.3,852.5 250.0,852.6 C266.7,852.7 280.2,852.8 300.0,852.8 C319.8,852.8 357.5,852.8 369.0,852.8" fill="none" stroke="#e3603a" stroke-width="2.2" stroke-linejoin="round" stroke-linecap="round"/>
<path d="M92.5,851.3 C102.1,851.4 132.1,851.6 150.0,851.7 C167.9,851.8 183.3,851.9 200.0,852.0 C216.7,852.1 233.3,852.2 250.0,852.3 C266.7,852.4 280.2,852.5 300.0,852.6 C319.8,852.7 357.5,852.8 369.0,852.8" fill="none" stroke="#f29550" stroke-width="2.2" stroke-linejoin="round" stroke-linecap="round"/>
<path d="M92.5,850.6 C102.1,850.6 132.1,850.5 150.0,850.5 C167.9,850.5 183.3,850.4 200.0,850.4 C216.7,850.4 233.3,850.6 250.0,850.8 C266.7,851.0 280.2,851.5 300.0,851.8 C319.8,852.1 357.5,852.5 369.0,852.6" fill="none" stroke="#e8bf58" stroke-width="2.2" stroke-linejoin="round" stroke-linecap="round"/>
<path d="M92.6,850.70 L93.8,850.63 L95.0,850.55 L96.2,850.48 L97.4,850.40 L98.6,850.32 L99.8,850.24 L101.0,850.16 L102.2,850.07 L103.4,849.99 L104.6,849.90 L105.8,849.81 L107.0,849.73 L108.2,849.64 L109.4,849.54 L110.6,849.45 L111.8,849.35 L113.0,849.26 L114.2,849.16 L115.4,849.06 L116.6,848.96 L117.8,848.85 L119.0,848.75 L120.2,848.64 L121.4,848.53 L122.6,848.42 L123.8,848.30 L125.0,848.19 L126.2,848.07 L127.4,847.95 L128.6,847.83 L129.8,847.70 L131.0,847.58 L132.2,847.45 L133.4,847.32 L134.6,847.18 L135.8,847.05 L137.0,846.91 L138.2,846.77 L139.4,846.62 L140.6,846.48 L141.8,846.33 L143.0,846.18 L144.2,846.02 L145.4,845.87 L146.6,845.71 L147.8,845.54 L149.0,845.38 L150.2,845.21 L151.4,845.04 L152.6,844.86 L153.8,844.69 L155.0,844.51 L156.2,844.32 L157.4,844.13 L158.6,843.93 L159.8,843.72 L161.0,843.51 L162.2,843.28 L163.4,843.04 L164.6,842.80 L165.8,842.54 L167.0,842.27 L168.2,841.98 L169.4,841.68 L170.6,841.36 L171.8,841.02 L173.0,840.67 L174.2,840.29 L175.4,839.90 L176.6,839.49 L177.8,839.05 L179.0,838.59 L180.2,838.11 L181.4,837.61 L182.6,837.07 L183.8,836.52 L185.0,835.93 L186.2,835.32 L187.4,834.69 L188.6,834.04 L189.8,833.39 L191.0,832.73 L192.2,832.08 L193.4,831.44 L194.6,830.82 L195.8,830.21 L197.0,829.63 L198.2,829.09 L199.4,828.59 L200.6,828.12 L201.8,827.70 L203.0,827.32 L204.2,826.99 L205.4,826.69 L206.6,826.43 L207.8,826.21 L209.0,826.03 L210.2,825.89 L211.4,825.78 L212.6,825.71 L213.8,825.68 L215.0,825.68 L216.2,825.72 L217.4,825.78 L218.6,825.88 L219.8,826.01 L221.0,826.17 L222.2,826.35 L223.4,826.56 L224.6,826.79 L225.8,827.05 L227.0,827.32 L228.2,827.62 L229.4,827.93 L230.6,828.27 L231.8,828.62 L233.0,828.98 L234.2,829.35 L235.4,829.74 L236.6,830.14 L237.8,830.55 L239.0,830.96 L240.2,831.39 L241.4,831.81 L242.6,832.25 L243.8,832.69 L245.0,833.13 L246.2,833.57 L247.4,834.02 L248.6,834.47 L249.8,834.92 L251.0,835.37 L252.2,835.82 L253.4,836.27 L254.6,836.71 L255.8,837.15 L257.0,837.59 L258.2,838.03 L259.4,838.45 L260.6,838.88 L261.8,839.29 L263.0,839.70 L264.2,840.10 L265.4,840.49 L266.6,840.87 L267.8,841.24 L269.0,841.60 L270.2,841.94 L271.4,842.28 L272.6,842.61 L273.8,842.93 L275.0,843.24 L276.2,843.54 L277.4,843.83 L278.6,844.11 L279.8,844.39 L281.0,844.65 L282.2,844.91 L283.4,845.17 L284.6,845.41 L285.8,845.65 L287.0,845.88 L288.2,846.10 L289.4,846.32 L290.6,846.53 L291.8,846.74 L293.0,846.94 L294.2,847.14 L295.4,847.33 L296.6,847.52 L297.8,847.70 L299.0,847.88 L300.2,848.06 L301.4,848.23 L302.6,848.39 L303.8,848.56 L305.0,848.72 L306.2,848.88 L307.4,849.03 L308.6,849.18 L309.8,849.33 L311.0,849.47 L312.2,849.61 L313.4,849.75 L314.6,849.88 L315.8,850.01 L317.0,850.14 L318.2,850.26 L319.4,850.38 L320.6,850.50 L321.8,850.61 L323.0,850.73 L324.2,850.83 L325.4,850.94 L326.6,851.04 L327.8,851.14 L329.0,851.24 L330.2,851.33 L331.4,851.42 L332.6,851.51 L333.8,851.60 L335.0,851.68 L336.2,851.76 L337.4,851.84 L338.6,851.92 L339.8,851.99 L341.0,852.06 L342.2,852.13 L343.4,852.19 L344.6,852.26 L345.8,852.32 L347.0,852.37 L348.2,852.43 L349.4,852.49 L350.6,852.54 L351.8,852.59 L353.0,852.63 L354.2,852.68 L355.4,852.72 L356.6,852.77 L357.8,852.81 L359.0,852.84 L360.2,852.88 L361.4,852.91 L362.6,852.94 L363.8,852.98 L365.0,853.00 L366.2,853.03 L367.4,853.06 L368.6,853.08 L369.2,853.09" fill="none" stroke="#7eaa6c" stroke-width="2.4" stroke-linejoin="round" stroke-linecap="round"/>
<path d="M92.6,850.73 L93.8,850.54 L95.0,850.35 L96.2,850.17 L97.4,850.01 L98.6,849.85 L99.8,849.69 L101.0,849.54 L102.2,849.40 L103.4,849.27 L104.6,849.14 L105.8,849.01 L107.0,848.89 L108.2,848.77 L109.4,848.65 L110.6,848.54 L111.8,848.43 L113.0,848.32 L114.2,848.22 L115.4,848.11 L116.6,848.00 L117.8,847.90 L119.0,847.79 L120.2,847.69 L121.4,847.58 L122.6,847.47 L123.8,847.35 L125.0,847.24 L126.2,847.12 L127.4,847.00 L128.6,846.87 L129.8,846.74 L131.0,846.60 L132.2,846.46 L133.4,846.31 L134.6,846.16 L135.8,845.99 L137.0,845.82 L138.2,845.65 L139.4,845.46 L140.6,845.27 L141.8,845.06 L143.0,844.85 L144.2,844.62 L145.4,844.39 L146.6,844.14 L147.8,843.88 L149.0,843.61 L150.2,843.33 L151.4,843.04 L152.6,842.73 L153.8,842.40 L155.0,842.06 L156.2,841.71 L157.4,841.33 L158.6,840.92 L159.8,840.50 L161.0,840.04 L162.2,839.56 L163.4,839.04 L164.6,838.49 L165.8,837.90 L167.0,837.27 L168.2,836.60 L169.4,835.89 L170.6,835.13 L171.8,834.33 L173.0,833.47 L174.2,832.56 L175.4,831.60 L176.6,830.58 L177.8,829.50 L179.0,828.35 L180.2,827.15 L181.4,825.88 L182.6,824.56 L183.8,823.20 L185.0,821.80 L186.2,820.38 L187.4,818.94 L188.6,817.49 L189.8,816.04 L191.0,814.60 L192.2,813.18 L193.4,811.77 L194.6,810.38 L195.8,809.01 L197.0,807.67 L198.2,806.36 L199.4,805.09 L200.6,803.86 L201.8,802.67 L203.0,801.53 L204.2,800.44 L205.4,799.41 L206.6,798.43 L207.8,797.51 L209.0,796.67 L210.2,795.89 L211.4,795.19 L212.6,794.56 L213.8,794.02 L215.0,793.56 L216.2,793.19 L217.4,792.92 L218.6,792.74 L219.8,792.67 L221.0,792.68 L222.2,792.79 L223.4,792.98 L224.6,793.26 L225.8,793.60 L227.0,794.02 L228.2,794.50 L229.4,795.04 L230.6,795.64 L231.8,796.29 L233.0,796.98 L234.2,797.71 L235.4,798.48 L236.6,799.27 L237.8,800.10 L239.0,800.94 L240.2,801.80 L241.4,802.68 L242.6,803.57 L243.8,804.48 L245.0,805.40 L246.2,806.33 L247.4,807.27 L248.6,808.22 L249.8,809.17 L251.0,810.13 L252.2,811.09 L253.4,812.05 L254.6,813.01 L255.8,813.97 L257.0,814.93 L258.2,815.88 L259.4,816.83 L260.6,817.77 L261.8,818.70 L263.0,819.61 L264.2,820.52 L265.4,821.41 L266.6,822.28 L267.8,823.14 L269.0,823.98 L270.2,824.81 L271.4,825.61 L272.6,826.40 L273.8,827.18 L275.0,827.93 L276.2,828.67 L277.4,829.40 L278.6,830.11 L279.8,830.80 L281.0,831.48 L282.2,832.15 L283.4,832.79 L284.6,833.43 L285.8,834.05 L287.0,834.65 L288.2,835.25 L289.4,835.82 L290.6,836.39 L291.8,836.94 L293.0,837.48 L294.2,838.00 L295.4,838.52 L296.6,839.02 L297.8,839.51 L299.0,839.98 L300.2,840.45 L301.4,840.90 L302.6,841.34 L303.8,841.77 L305.0,842.19 L306.2,842.60 L307.4,842.99 L308.6,843.38 L309.8,843.75 L311.0,844.12 L312.2,844.47 L313.4,844.82 L314.6,845.15 L315.8,845.48 L317.0,845.79 L318.2,846.10 L319.4,846.40 L320.6,846.68 L321.8,846.96 L323.0,847.23 L324.2,847.49 L325.4,847.75 L326.6,847.99 L327.8,848.23 L329.0,848.46 L330.2,848.68 L331.4,848.89 L332.6,849.10 L333.8,849.29 L335.0,849.48 L336.2,849.67 L337.4,849.85 L338.6,850.02 L339.8,850.18 L341.0,850.34 L342.2,850.49 L343.4,850.63 L344.6,850.77 L345.8,850.91 L347.0,851.03 L348.2,851.16 L349.4,851.27 L350.6,851.38 L351.8,851.49 L353.0,851.59 L354.2,851.69 L355.4,851.78 L356.6,851.87 L357.8,851.96 L359.0,852.04 L360.2,852.11 L361.4,852.19 L362.6,852.26 L363.8,852.32 L365.0,852.39 L366.2,852.45 L367.4,852.50 L368.6,852.56 L369.2,852.58" fill="none" stroke="#1f998b" stroke-width="2.4" stroke-linejoin="round" stroke-linecap="round"/>
<path d="M92.6,849.63 L93.8,849.40 L95.0,849.18 L96.2,848.96 L97.4,848.74 L98.6,848.53 L99.8,848.32 L101.0,848.12 L102.2,847.91 L103.4,847.71 L104.6,847.50 L105.8,847.30 L107.0,847.09 L108.2,846.88 L109.4,846.67 L110.6,846.45 L111.8,846.23 L113.0,846.00 L114.2,845.77 L115.4,845.53 L116.6,845.28 L117.8,845.03 L119.0,844.77 L120.2,844.49 L121.4,844.21 L122.6,843.91 L123.8,843.61 L125.0,843.29 L126.2,842.95 L127.4,842.61 L128.6,842.24 L129.8,841.87 L131.0,841.47 L132.2,841.06 L133.4,840.64 L134.6,840.19 L135.8,839.72 L137.0,839.24 L138.2,838.73 L139.4,838.21 L140.6,837.66 L141.8,837.08 L143.0,836.49 L144.2,835.87 L145.4,835.22 L146.6,834.55 L147.8,833.84 L149.0,833.11 L150.2,832.34 L151.4,831.53 L152.6,830.69 L153.8,829.82 L155.0,828.91 L156.2,827.98 L157.4,827.04 L158.6,826.08 L159.8,825.12 L161.0,824.17 L162.2,823.23 L163.4,822.31 L164.6,821.40 L165.8,820.49 L167.0,819.55 L168.2,818.57 L169.4,817.52 L170.6,816.38 L171.8,815.13 L173.0,813.74 L174.2,812.17 L175.4,810.38 L176.6,808.34 L177.8,805.99 L179.0,803.31 L180.2,800.25 L181.4,796.83 L182.6,793.21 L183.8,789.56 L185.0,786.03 L186.2,782.62 L187.4,779.32 L188.6,776.12 L189.8,772.98 L191.0,769.92 L192.2,766.94 L193.4,764.04 L194.6,761.22 L195.8,758.49 L197.0,755.85 L198.2,753.29 L199.4,750.82 L200.6,748.43 L201.8,746.12 L203.0,743.90 L204.2,741.76 L205.4,739.73 L206.6,737.82 L207.8,736.03 L209.0,734.38 L210.2,732.88 L211.4,731.54 L212.6,730.37 L213.8,729.38 L215.0,728.59 L216.2,727.99 L217.4,727.62 L218.6,727.46 L219.8,727.51 L221.0,727.76 L222.2,728.19 L223.4,728.77 L224.6,729.50 L225.8,730.36 L227.0,731.33 L228.2,732.39 L229.4,733.52 L230.6,734.72 L231.8,735.97 L233.0,737.27 L234.2,738.63 L235.4,740.04 L236.6,741.50 L237.8,743.03 L239.0,744.61 L240.2,746.24 L241.4,747.94 L242.6,749.69 L243.8,751.51 L245.0,753.37 L246.2,755.27 L247.4,757.21 L248.6,759.17 L249.8,761.16 L251.0,763.16 L252.2,765.17 L253.4,767.17 L254.6,769.18 L255.8,771.16 L257.0,773.13 L258.2,775.08 L259.4,776.99 L260.6,778.88 L261.8,780.74 L263.0,782.57 L264.2,784.37 L265.4,786.14 L266.6,787.88 L267.8,789.58 L269.0,791.24 L270.2,792.87 L271.4,794.46 L272.6,796.01 L273.8,797.55 L275.0,799.06 L276.2,800.58 L277.4,802.11 L278.6,803.65 L279.8,805.23 L281.0,806.84 L282.2,808.51 L283.4,810.22 L284.6,811.93 L285.8,813.65 L287.0,815.33 L288.2,816.95 L289.4,818.50 L290.6,819.95 L291.8,821.31 L293.0,822.58 L294.2,823.76 L295.4,824.87 L296.6,825.91 L297.8,826.89 L299.0,827.80 L300.2,828.67 L301.4,829.49 L302.6,830.27 L303.8,831.01 L305.0,831.73 L306.2,832.42 L307.4,833.11 L308.6,833.78 L309.8,834.44 L311.0,835.10 L312.2,835.75 L313.4,836.39 L314.6,837.03 L315.8,837.65 L317.0,838.27 L318.2,838.87 L319.4,839.46 L320.6,840.04 L321.8,840.60 L323.0,841.15 L324.2,841.69 L325.4,842.21 L326.6,842.71 L327.8,843.19 L329.0,843.66 L330.2,844.11 L331.4,844.54 L332.6,844.96 L333.8,845.36 L335.0,845.74 L336.2,846.11 L337.4,846.47 L338.6,846.81 L339.8,847.14 L341.0,847.45 L342.2,847.75 L343.4,848.04 L344.6,848.32 L345.8,848.59 L347.0,848.85 L348.2,849.09 L349.4,849.33 L350.6,849.56 L351.8,849.77 L353.0,849.98 L354.2,850.18 L355.4,850.38 L356.6,850.56 L357.8,850.74 L359.0,850.91 L360.2,851.08 L361.4,851.24 L362.6,851.40 L363.8,851.55 L365.0,851.70 L366.2,851.84 L367.4,851.99 L368.6,852.12 L369.2,852.19" fill="none" stroke="#1f6d68" stroke-width="2.4" stroke-linejoin="round" stroke-linecap="round"/>
<path d="M92.6,848.59 L93.8,847.89 L95.0,847.24 L96.2,846.65 L97.4,846.12 L98.6,845.63 L99.8,845.19 L101.0,844.78 L102.2,844.42 L103.4,844.09 L104.6,843.79 L105.8,843.51 L107.0,843.26 L108.2,843.02 L109.4,842.80 L110.6,842.60 L111.8,842.39 L113.0,842.19 L114.2,841.99 L115.4,841.79 L116.6,841.58 L117.8,841.35 L119.0,841.11 L120.2,840.85 L121.4,840.57 L122.6,840.26 L123.8,839.92 L125.0,839.54 L126.2,839.13 L127.4,838.67 L128.6,838.17 L129.8,837.62 L131.0,837.02 L132.2,836.35 L133.4,835.63 L134.6,834.84 L135.8,833.98 L137.0,833.05 L138.2,832.05 L139.4,830.97 L140.6,829.84 L141.8,828.64 L143.0,827.40 L144.2,826.10 L145.4,824.77 L146.6,823.41 L147.8,822.02 L149.0,820.60 L150.2,819.17 L151.4,817.73 L152.6,816.29 L153.8,814.85 L155.0,813.42 L156.2,812.00 L157.4,810.60 L158.6,809.23 L159.8,807.86 L161.0,806.46 L162.2,804.99 L163.4,803.43 L164.6,801.72 L165.8,799.84 L167.0,797.75 L168.2,795.42 L169.4,792.81 L170.6,789.94 L171.8,786.83 L173.0,783.50 L174.2,779.95 L175.4,776.22 L176.6,772.32 L177.8,768.26 L179.0,764.09 L180.2,759.82 L181.4,755.49 L182.6,751.12 L183.8,746.74 L185.0,742.38 L186.2,738.06 L187.4,733.81 L188.6,729.66 L189.8,725.64 L191.0,721.72 L192.2,717.90 L193.4,714.15 L194.6,710.45 L195.8,706.78 L197.0,703.16 L198.2,699.65 L199.4,696.29 L200.6,693.14 L201.8,690.23 L203.0,687.61 L204.2,685.25 L205.4,683.16 L206.6,681.33 L207.8,679.76 L209.0,678.43 L210.2,677.35 L211.4,676.51 L212.6,675.89 L213.8,675.51 L215.0,675.35 L216.2,675.40 L217.4,675.66 L218.6,676.12 L219.8,676.79 L221.0,677.65 L222.2,678.69 L223.4,679.92 L224.6,681.33 L225.8,682.90 L227.0,684.64 L228.2,686.54 L229.4,688.60 L230.6,690.79 L231.8,693.11 L233.0,695.56 L234.2,698.11 L235.4,700.77 L236.6,703.52 L237.8,706.35 L239.0,709.26 L240.2,712.22 L241.4,715.24 L242.6,718.30 L243.8,721.40 L245.0,724.51 L246.2,727.64 L247.4,730.77 L248.6,733.89 L249.8,737.00 L251.0,740.08 L252.2,743.12 L253.4,746.12 L254.6,749.06 L255.8,751.93 L257.0,754.73 L258.2,757.45 L259.4,760.09 L260.6,762.65 L261.8,765.14 L263.0,767.57 L264.2,769.92 L265.4,772.22 L266.6,774.45 L267.8,776.62 L269.0,778.74 L270.2,780.81 L271.4,782.82 L272.6,784.79 L273.8,786.72 L275.0,788.61 L276.2,790.45 L277.4,792.27 L278.6,794.05 L279.8,795.80 L281.0,797.53 L282.2,799.23 L283.4,800.91 L284.6,802.58 L285.8,804.22 L287.0,805.86 L288.2,807.49 L289.4,809.11 L290.6,810.71 L291.8,812.30 L293.0,813.86 L294.2,815.40 L295.4,816.92 L296.6,818.40 L297.8,819.85 L299.0,821.26 L300.2,822.63 L301.4,823.96 L302.6,825.23 L303.8,826.46 L305.0,827.63 L306.2,828.74 L307.4,829.81 L308.6,830.83 L309.8,831.81 L311.0,832.74 L312.2,833.62 L313.4,834.47 L314.6,835.28 L315.8,836.06 L317.0,836.80 L318.2,837.51 L319.4,838.19 L320.6,838.84 L321.8,839.47 L323.0,840.08 L324.2,840.66 L325.4,841.22 L326.6,841.76 L327.8,842.28 L329.0,842.78 L330.2,843.25 L331.4,843.72 L332.6,844.16 L333.8,844.58 L335.0,844.99 L336.2,845.38 L337.4,845.75 L338.6,846.11 L339.8,846.46 L341.0,846.78 L342.2,847.10 L343.4,847.40 L344.6,847.69 L345.8,847.96 L347.0,848.23 L348.2,848.48 L349.4,848.72 L350.6,848.95 L351.8,849.17 L353.0,849.39 L354.2,849.59 L355.4,849.79 L356.6,849.97 L357.8,850.15 L359.0,850.33 L360.2,850.50 L361.4,850.66 L362.6,850.82 L363.8,850.97 L365.0,851.12 L366.2,851.27 L367.4,851.41 L368.6,851.56 L369.2,851.63" fill="none" stroke="#1f4250" stroke-width="2.4" stroke-linejoin="round" stroke-linecap="round"/>
<line x1="296.3" y1="670.6" x2="326.8" y2="670.6" stroke="#e3603a" stroke-width="2.5" stroke-linecap="round"/>
<text transform="translate(338.20,676.20) scale(1.0,1)" font-size="15.7" font-weight="normal" font-style="normal" text-anchor="start" fill="#111" >0 M</text>
<line x1="296.3" y1="693.5" x2="326.8" y2="693.5" stroke="#f29550" stroke-width="2.5" stroke-linecap="round"/>
<text transform="translate(338.20,699.10) scale(1.0,1)" font-size="15.7" font-weight="normal" font-style="normal" text-anchor="start" fill="#111" >1 M</text>
<line x1="296.3" y1="716.4" x2="326.8" y2="716.4" stroke="#e8bf58" stroke-width="2.5" stroke-linecap="round"/>
<text transform="translate(338.20,722.00) scale(1.0,1)" font-size="15.7" font-weight="normal" font-style="normal" text-anchor="start" fill="#111" >2 M</text>
<line x1="296.3" y1="739.2" x2="326.8" y2="739.2" stroke="#7eaa6c" stroke-width="2.5" stroke-linecap="round"/>
<text transform="translate(338.20,744.80) scale(1.0,1)" font-size="15.7" font-weight="normal" font-style="normal" text-anchor="start" fill="#111" >3 M</text>
<line x1="296.3" y1="762.1" x2="326.8" y2="762.1" stroke="#1f998b" stroke-width="2.5" stroke-linecap="round"/>
<text transform="translate(338.20,767.70) scale(1.0,1)" font-size="15.7" font-weight="normal" font-style="normal" text-anchor="start" fill="#111" >4 M</text>
<line x1="296.3" y1="785" x2="326.8" y2="785" stroke="#1f6d68" stroke-width="2.5" stroke-linecap="round"/>
<text transform="translate(338.20,790.60) scale(1.0,1)" font-size="15.7" font-weight="normal" font-style="normal" text-anchor="start" fill="#111" >5 M</text>
<line x1="296.3" y1="807.9" x2="326.8" y2="807.9" stroke="#1f4250" stroke-width="2.5" stroke-linecap="round"/>
<text transform="translate(338.20,813.50) scale(1.0,1)" font-size="15.7" font-weight="normal" font-style="normal" text-anchor="start" fill="#111" >6 M</text>
<rect x="92.4" y="657" width="276.79999999999995" height="222.29999999999995" fill="none" stroke="#000" stroke-width="2.8"/>
<text transform="translate(401.30,645.40) scale(1,1)" font-size="29" font-weight="bold" font-style="normal" text-anchor="start" fill="#000" stroke="#000" stroke-width="0.35" >h</text>
<rect x="469.8" y="629.8" width="640.7" height="318.6" fill="#000"/>
<defs><filter id="blur1" x="-20%" y="-20%" width="140%" height="140%"><feGaussianBlur stdDeviation="0.7"/></filter></defs>
<text transform="translate(529.00,658.00) scale(1.0,1)" font-size="13.3" font-weight="bold" font-style="normal" text-anchor="middle" fill="#fff" stroke="#fff" stroke-width="0.35" stroke="#fff" stroke-width="0.3">UV on</text>
<text transform="translate(568.00,657.77) scale(1.0,1)" font-size="13.3" font-weight="bold" font-style="normal" text-anchor="middle" fill="#fff" stroke="#fff" stroke-width="0.35" stroke="#fff" stroke-width="0.3">0 s</text>
<text transform="translate(608.90,657.53) scale(1.0,1)" font-size="13.3" font-weight="bold" font-style="normal" text-anchor="middle" fill="#fff" stroke="#fff" stroke-width="0.35" stroke="#fff" stroke-width="0.3">0.5 s</text>
<text transform="translate(648.90,657.30) scale(1.0,1)" font-size="13.3" font-weight="bold" font-style="normal" text-anchor="middle" fill="#fff" stroke="#fff" stroke-width="0.35" stroke="#fff" stroke-width="0.3">1 s</text>
<text transform="translate(689.60,657.07) scale(1.0,1)" font-size="13.3" font-weight="bold" font-style="normal" text-anchor="middle" fill="#fff" stroke="#fff" stroke-width="0.35" stroke="#fff" stroke-width="0.3">1.5 s</text>
<text transform="translate(731.50,656.83) scale(1.0,1)" font-size="13.3" font-weight="bold" font-style="normal" text-anchor="middle" fill="#fff" stroke="#fff" stroke-width="0.35" stroke="#fff" stroke-width="0.3">2 s</text>
<text transform="translate(771.60,656.60) scale(1.0,1)" font-size="13.3" font-weight="bold" font-style="normal" text-anchor="middle" fill="#fff" stroke="#fff" stroke-width="0.35" stroke="#fff" stroke-width="0.3">2.5 s</text>
<text transform="translate(811.90,656.37) scale(1.0,1)" font-size="12.8" font-weight="bold" font-style="normal" text-anchor="middle" fill="#fff" stroke="#fff" stroke-width="0.35" stroke="#fff" stroke-width="0.3">3 s</text>
<text transform="translate(851.60,656.15) scale(1.0,1)" font-size="12.8" font-weight="bold" font-style="normal" text-anchor="middle" fill="#fff" stroke="#fff" stroke-width="0.35" stroke="#fff" stroke-width="0.3">3.5 s</text>
<text transform="translate(891.30,655.92) scale(1.0,1)" font-size="12.8" font-weight="bold" font-style="normal" text-anchor="middle" fill="#fff" stroke="#fff" stroke-width="0.35" stroke="#fff" stroke-width="0.3">4 s</text>
<text transform="translate(929.60,655.70) scale(1.0,1)" font-size="12.8" font-weight="bold" font-style="normal" text-anchor="middle" fill="#fff" stroke="#fff" stroke-width="0.35" stroke="#fff" stroke-width="0.3">4.5 s</text>
<text transform="translate(969.00,655.48) scale(1.0,1)" font-size="12.8" font-weight="bold" font-style="normal" text-anchor="middle" fill="#fff" stroke="#fff" stroke-width="0.35" stroke="#fff" stroke-width="0.3">5 s</text>
<text transform="translate(1008.00,655.26) scale(1.0,1)" font-size="12.8" font-weight="bold" font-style="normal" text-anchor="middle" fill="#fff" stroke="#fff" stroke-width="0.35" stroke="#fff" stroke-width="0.3">5.5 s</text>
<text transform="translate(1048.80,655.02) scale(1.0,1)" font-size="12.8" font-weight="bold" font-style="normal" text-anchor="middle" fill="#fff" stroke="#fff" stroke-width="0.35" stroke="#fff" stroke-width="0.3">6 s</text>
<text transform="translate(1088.30,654.80) scale(1.0,1)" font-size="12.8" font-weight="bold" font-style="normal" text-anchor="middle" fill="#fff" stroke="#fff" stroke-width="0.35" stroke="#fff" stroke-width="0.3">6.5 s</text>
<text transform="translate(476.60,690.90) scale(1.0,1)" font-size="16" font-weight="normal" font-style="normal" text-anchor="start" fill="#fff" >6 M</text>
<text transform="translate(476.60,731.70) scale(1.0,1)" font-size="16" font-weight="normal" font-style="normal" text-anchor="start" fill="#fff" >5 M</text>
<text transform="translate(476.60,770.70) scale(1.0,1)" font-size="16" font-weight="normal" font-style="normal" text-anchor="start" fill="#fff" >4 M</text>
<text transform="translate(476.60,811.30) scale(1.0,1)" font-size="16" font-weight="normal" font-style="normal" text-anchor="start" fill="#fff" >3 M</text>
<text transform="translate(476.60,850.20) scale(1.0,1)" font-size="16" font-weight="normal" font-style="normal" text-anchor="start" fill="#fff" >2 M</text>
<text transform="translate(476.60,888.00) scale(1.0,1)" font-size="16" font-weight="normal" font-style="normal" text-anchor="start" fill="#fff" >1 M</text>
<text transform="translate(476.60,928.70) scale(1.0,1)" font-size="16" font-weight="normal" font-style="normal" text-anchor="start" fill="#fff" >0 M</text>
<circle cx="527.0" cy="682.9" r="15.5" fill="#8af2f8" filter="url(#blur1)"/>
<circle cx="568" cy="682.8" r="16.3" fill="#9cc45e" filter="url(#blur1)"/>
<circle cx="608.9" cy="682.6" r="16.3" fill="#88bc5c" filter="url(#blur1)"/>
<circle cx="648.9" cy="682.5" r="16.3" fill="#80b45c" filter="url(#blur1)"/>
<circle cx="689.6" cy="682.3" r="16.3" fill="#78b45a" filter="url(#blur1)"/>
<circle cx="731.5" cy="682.2" r="16.3" fill="#74b05c" filter="url(#blur1)"/>
<circle cx="771.6" cy="682.0" r="16.3" fill="#5e9e52" filter="url(#blur1)"/>
<circle cx="811.9" cy="681.9" r="16.3" fill="#66a458" filter="url(#blur1)"/>
<circle cx="851.6" cy="681.7" r="16.3" fill="#5a9a50" filter="url(#blur1)"/>
<circle cx="891.3" cy="681.6" r="16.3" fill="#4e8a45" filter="url(#blur1)"/>
<circle cx="929.6" cy="681.5" r="16.3" fill="#427a3c" filter="url(#blur1)"/>
<circle cx="969" cy="681.3" r="16.3" fill="#346432" filter="url(#blur1)"/>
<circle cx="1008" cy="681.2" r="16.3" fill="#2c5628" filter="url(#blur1)"/>
<circle cx="1048.8" cy="681.0" r="16.3" fill="#1e4018" filter="url(#blur1)"/>
<circle cx="1088.3" cy="680.9" r="16.3" fill="#162c12" filter="url(#blur1)"/>
<circle cx="527.0" cy="725.1" r="15.5" fill="#7eeefa" filter="url(#blur1)"/>
<circle cx="568" cy="725.0" r="16.3" fill="#b0c856" filter="url(#blur1)"/>
<circle cx="608.9" cy="724.8" r="16.3" fill="#90b054" filter="url(#blur1)"/>
<circle cx="648.9" cy="724.7" r="16.3" fill="#6e9a48" filter="url(#blur1)"/>
<circle cx="689.6" cy="724.5" r="16.3" fill="#4c6c38" filter="url(#blur1)"/>
<circle cx="731.5" cy="724.4" r="16.3" fill="#34502a" filter="url(#blur1)"/>
<circle cx="771.6" cy="724.2" r="16.3" fill="#2a4420" filter="url(#blur1)"/>
<circle cx="811.9" cy="724.1" r="16.3" fill="#1e3a1a" filter="url(#blur1)"/>
<circle cx="851.6" cy="723.9" r="16.3" fill="#182e14" filter="url(#blur1)"/>
<circle cx="891.3" cy="723.8" r="16.3" fill="#141c10" filter="url(#blur1)"/>
<circle cx="527.0" cy="764.5" r="15.5" fill="#76e4ee" filter="url(#blur1)"/>
<circle cx="568" cy="764.4" r="16.3" fill="#8aac44" filter="url(#blur1)"/>
<circle cx="608.9" cy="764.2" r="16.3" fill="#5c8a44" filter="url(#blur1)"/>
<circle cx="648.9" cy="764.1" r="16.3" fill="#34522a" filter="url(#blur1)"/>
<circle cx="689.6" cy="763.9" r="16.3" fill="#263e1e" filter="url(#blur1)"/>
<circle cx="731.5" cy="763.8" r="16.3" fill="#1c3018" filter="url(#blur1)"/>
<circle cx="771.6" cy="763.6" r="16.3" fill="#1a2214" filter="url(#blur1)"/>
<circle cx="811.9" cy="763.5" r="16.3" fill="#121a0e" filter="url(#blur1)"/>
<circle cx="527.0" cy="805" r="15.5" fill="#4ccedc" filter="url(#blur1)"/>
<circle cx="568" cy="804.9" r="16.3" fill="#8ea44c" filter="url(#blur1)"/>
<circle cx="608.9" cy="804.7" r="16.3" fill="#3c5a2e" filter="url(#blur1)"/>
<circle cx="648.9" cy="804.6" r="16.3" fill="#283e1e" filter="url(#blur1)"/>
<circle cx="689.6" cy="804.4" r="16.3" fill="#1a2614" filter="url(#blur1)"/>
<circle cx="731.5" cy="804.3" r="16.3" fill="#141a10" filter="url(#blur1)"/>
<circle cx="527.0" cy="844.8" r="15.5" fill="#6ee2ee" filter="url(#blur1)"/>
<circle cx="568" cy="844.7" r="16.3" fill="#3a3e1e" filter="url(#blur1)"/>
<circle cx="608.9" cy="844.5" r="16.3" fill="#14160c" filter="url(#blur1)"/>
<circle cx="527.0" cy="882.6" r="15.5" fill="#48c4c4" filter="url(#blur1)"/>
<circle cx="527.0" cy="922.7" r="15.5" fill="#6aaac8" filter="url(#blur1)"/>
</svg></body></html>
